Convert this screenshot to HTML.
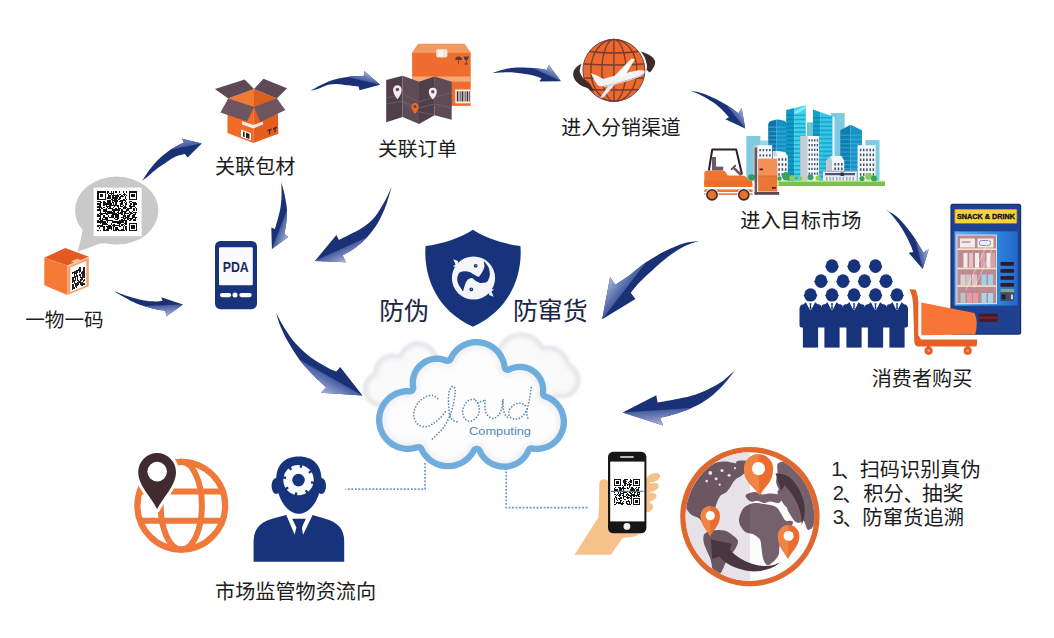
<!DOCTYPE html>
<html lang="zh"><head><meta charset="utf-8"><title>防伪防窜货 流程图</title>
<style>
html,body{margin:0;padding:0;background:#fff;}
body{width:1054px;height:638px;overflow:hidden;font-family:"Liberation Sans",sans-serif;}
svg{display:block;}
</style></head><body>
<svg width="1054" height="638" viewBox="0 0 1054 638" font-family="'Liberation Sans', sans-serif">
<defs>
<clipPath id="t1c"><path d="M768.2,181.5 V124.5 Q768.4,121 773,120.5 Q777.5,118.6 782,120.3 Q787,121 787,125 V181.5Z"/></clipPath>
<clipPath id="t2c"><polygon points="786.2,181.5 786.2,109.9 805.8,105.2 805.8,181.5"/></clipPath>
<clipPath id="t3c"><polygon points="812.9,181.5 812.9,109.4 832.5,116.2 832.5,181.5"/></clipPath>
<clipPath id="t4c"><polygon points="840.3,181.5 840.3,130.3 850.5,124.8 862.0,130.3 862.0,181.5"/></clipPath>
<linearGradient id="vg" x1="0" y1="0" x2="1" y2="0"><stop offset="0" stop-color="#6db3ee"/><stop offset="0.6" stop-color="#2f8be0"/><stop offset="1" stop-color="#2467c9"/></linearGradient>
<filter id="cbl" x="-10%" y="-10%" width="120%" height="120%"><feGaussianBlur stdDeviation="1.6"/></filter>
<filter id="cbl2" x="-10%" y="-10%" width="120%" height="120%"><feGaussianBlur stdDeviation="2.2"/></filter>
<clipPath id="wg"><circle cx="749.9" cy="516.6" r="64.3"/></clipPath>
<linearGradient id="ag1" gradientUnits="userSpaceOnUse" x1="186.2" y1="146.6" x2="184.7" y2="138.3"><stop offset="0" stop-color="#465ca1"/><stop offset="1" stop-color="#6f84bd"/></linearGradient>
<clipPath id="ac1"><path d="M142.1,180.9 C143.5,178.9 147.2,172.7 150.3,168.8 C153.4,164.9 157.1,160.8 160.5,157.6 C163.9,154.4 167.6,151.6 170.7,149.5 C173.8,147.4 176.6,146.0 178.8,144.9 C181.0,143.8 183.1,143.2 183.9,142.8 L182.1,138.8 L201.8,143.6 L187.5,157.6 L184.9,154.1 C183.4,154.5 179.0,155.2 175.8,156.6 C172.6,158.0 169.0,160.5 165.6,162.7 C162.2,164.9 158.5,167.5 155.4,169.9 C152.3,172.3 149.4,175.2 147.2,177.0 C145.0,178.8 142.9,180.2 142.1,180.9Z"/></clipPath>
<linearGradient id="ag2" gradientUnits="userSpaceOnUse" x1="363.8" y1="80.8" x2="366.0" y2="71.3"><stop offset="0" stop-color="#465ca1"/><stop offset="1" stop-color="#a9b5da"/></linearGradient>
<clipPath id="ac2"><path d="M310.3,90.8 C312.2,89.8 317.6,86.6 321.6,84.7 C325.6,82.8 330.2,80.9 334.5,79.6 C338.8,78.3 343.4,77.6 347.4,77.0 C351.4,76.4 355.8,76.3 358.6,76.1 C361.4,75.9 363.3,75.8 364.2,75.7 L364.2,70.9 L380.2,84.7 L359.5,90.3 L358.6,86.5 C356.7,86.3 351.0,85.6 347.4,85.2 C343.8,84.8 340.3,84.0 337.1,83.9 C333.9,83.8 331.4,84.0 328.4,84.7 C325.4,85.5 322.0,87.4 319.0,88.4 C316.0,89.4 311.8,90.4 310.3,90.8Z"/></clipPath>
<linearGradient id="ag3" gradientUnits="userSpaceOnUse" x1="546.6" y1="74.7" x2="550.6" y2="65.9"><stop offset="0" stop-color="#465ca1"/><stop offset="1" stop-color="#a9b5da"/></linearGradient>
<clipPath id="ac3"><path d="M492.3,73.0 C494.7,72.3 502.1,69.6 506.6,68.7 C511.1,67.8 515.2,67.7 519.5,67.6 C523.8,67.5 528.7,67.8 532.4,68.1 C536.1,68.3 539.5,68.8 541.9,69.1 C544.3,69.4 545.8,69.8 546.6,70.0 L548.8,65.1 L560.9,81.2 L539.3,81.6 L541.5,78.2 C540.0,77.7 535.6,76.0 532.4,75.2 C529.2,74.4 525.3,73.9 522.1,73.4 C518.9,72.9 516.7,72.6 513.4,72.4 C510.1,72.2 505.7,72.3 502.2,72.4 C498.7,72.5 493.9,72.9 492.3,73.0Z"/></clipPath>
<linearGradient id="ag4" gradientUnits="userSpaceOnUse" x1="735.5" y1="116.5" x2="743.4" y2="110.2"><stop offset="0" stop-color="#465ca1"/><stop offset="1" stop-color="#a9b5da"/></linearGradient>
<clipPath id="ac4"><path d="M688.2,90.3 C690.2,90.7 696.2,91.5 700.4,92.8 C704.6,94.1 709.4,95.9 713.6,97.9 C717.9,99.9 722.3,102.5 725.9,104.6 C729.5,106.7 732.9,109.3 735.0,110.7 C737.1,112.1 738.0,112.8 738.6,113.2 L741.7,108.1 L745.2,128.5 L725.4,119.3 L728.9,117.3 C727.5,115.8 723.5,111.1 720.8,108.6 C718.1,106.0 715.7,104.1 712.6,102.0 C709.5,99.9 705.5,97.5 702.4,95.9 C699.3,94.3 696.7,93.2 694.3,92.3 C691.9,91.4 689.2,90.6 688.2,90.3Z"/></clipPath>
<linearGradient id="ag5" gradientUnits="userSpaceOnUse" x1="919.0" y1="253.9" x2="929.2" y2="251.4"><stop offset="0" stop-color="#465ca1"/><stop offset="1" stop-color="#a9b5da"/></linearGradient>
<clipPath id="ac5"><path d="M886.3,210.0 C888.0,211.1 892.9,213.5 896.3,216.3 C899.6,219.1 903.2,223.2 906.4,227.0 C909.5,230.8 912.8,235.3 915.2,238.9 C917.6,242.5 919.4,246.0 920.8,248.3 C922.1,250.6 922.9,252.0 923.3,252.7 L928.7,249.3 L922.7,269.0 L908.6,252.7 L913.3,252.1 C912.8,250.7 911.5,246.9 910.1,243.9 C908.7,240.9 907.0,237.2 905.1,233.9 C903.2,230.6 901.1,227.1 898.8,223.8 C896.5,220.6 893.4,216.7 891.3,214.4 C889.2,212.1 887.1,210.7 886.3,210.0Z"/></clipPath>
<linearGradient id="ag6" gradientUnits="userSpaceOnUse" x1="624.3" y1="290.7" x2="608.8" y2="278.7"><stop offset="0" stop-color="#465ca1"/><stop offset="1" stop-color="#a9b5da"/></linearGradient>
<clipPath id="ac6"><path d="M698.9,241.0 C696.4,241.4 689.6,241.6 684.0,243.3 C678.4,245.0 671.5,248.0 665.2,251.1 C658.9,254.2 652.4,258.1 646.4,262.1 C640.4,266.2 634.4,271.6 629.2,275.4 C624.0,279.2 617.5,283.2 615.1,284.8 L610.1,277.0 L602.2,319.3 L635.4,298.9 L630.7,292.7 C632.3,290.9 636.4,285.5 640.1,281.7 C643.8,277.9 648.0,274.1 652.7,269.9 C657.4,265.7 663.1,260.5 668.3,256.6 C673.5,252.7 678.9,249.1 684.0,246.5 C689.1,243.9 696.4,241.9 698.9,241.0Z"/></clipPath>
<linearGradient id="ag7" gradientUnits="userSpaceOnUse" x1="657.0" y1="410.2" x2="658.0" y2="425.7"><stop offset="0" stop-color="#465ca1"/><stop offset="1" stop-color="#a9b5da"/></linearGradient>
<clipPath id="ac7"><path d="M735.3,370.1 C733.3,371.8 727.9,377.2 723.5,380.4 C719.1,383.5 714.0,386.4 708.7,389.0 C703.4,391.6 697.2,394.1 691.5,395.8 C685.8,397.6 679.9,398.4 674.2,399.5 C668.6,400.6 660.4,402.1 657.6,402.6 L656.3,395.2 L622.6,412.4 L663.1,425.4 L660.0,418.0 C662.4,417.4 669.0,415.9 674.2,414.3 C679.5,412.7 685.8,410.8 691.5,408.1 C697.2,405.4 703.4,402.1 708.7,398.2 C714.0,394.3 719.1,389.4 723.5,384.7 C727.9,380.0 733.3,372.5 735.3,370.1Z"/></clipPath>
<linearGradient id="ag8" gradientUnits="userSpaceOnUse" x1="331.0" y1="377.7" x2="322.1" y2="393.3"><stop offset="0" stop-color="#465ca1"/><stop offset="1" stop-color="#a9b5da"/></linearGradient>
<clipPath id="ac8"><path d="M276.0,312.5 C277.3,314.9 280.4,321.6 283.8,326.9 C287.2,332.2 291.6,339.0 296.3,344.2 C301.0,349.4 306.8,354.4 312.0,358.3 C317.2,362.2 323.6,365.5 327.7,367.7 C331.8,369.9 334.9,371.0 336.3,371.6 L340.2,366.9 L362.5,395.6 L321.1,392.7 L326.1,387.3 C323.8,385.1 316.4,378.5 312.0,373.9 C307.6,369.3 303.4,365.0 299.5,359.8 C295.6,354.6 291.6,348.1 288.5,342.6 C285.4,337.1 282.8,331.9 280.7,326.9 C278.6,321.9 276.8,314.9 276.0,312.5Z"/></clipPath>
<linearGradient id="ag9" gradientUnits="userSpaceOnUse" x1="163.4" y1="305.2" x2="163.8" y2="316.3"><stop offset="0" stop-color="#465ca1"/><stop offset="1" stop-color="#a9b5da"/></linearGradient>
<clipPath id="ac9"><path d="M114.0,291.2 C116.1,291.9 122.3,294.3 126.5,295.7 C130.8,297.1 135.2,298.5 139.5,299.4 C143.8,300.3 148.6,301.1 152.4,301.3 C156.2,301.6 160.9,301.0 162.6,300.9 L161.2,297.2 L183.0,304.5 L166.4,316.2 L165.3,310.8 C163.9,310.6 160.3,310.3 156.7,309.5 C153.1,308.7 148.1,307.4 143.8,306.0 C139.5,304.6 134.5,302.5 130.9,300.9 C127.3,299.2 125.0,297.7 122.2,296.1 C119.4,294.5 115.4,292.0 114.0,291.2Z"/></clipPath>
<linearGradient id="ag10" gradientUnits="userSpaceOnUse" x1="341.1" y1="248.9" x2="347.0" y2="261.8"><stop offset="0" stop-color="#465ca1"/><stop offset="1" stop-color="#a9b5da"/></linearGradient>
<clipPath id="ac10"><path d="M391.7,186.8 C390.6,189.0 388.1,195.2 385.4,200.1 C382.6,205.0 379.0,211.9 375.2,216.5 C371.4,221.1 366.9,224.6 362.7,227.5 C358.5,230.4 354.2,232.1 350.2,234.2 C346.2,236.3 340.8,239.0 338.9,240.0 L336.4,235.0 L314.9,260.9 L345.9,262.3 L342.6,255.3 C344.7,254.1 350.8,251.0 354.9,247.9 C359.0,244.8 363.5,241.2 367.4,236.9 C371.3,232.6 375.3,227.3 378.4,222.0 C381.5,216.7 384.0,210.7 386.2,204.8 C388.4,198.9 390.8,189.8 391.7,186.8Z"/></clipPath>
<linearGradient id="ag11" gradientUnits="userSpaceOnUse" x1="279.4" y1="229.5" x2="289.6" y2="233.4"><stop offset="0" stop-color="#465ca1"/><stop offset="1" stop-color="#a9b5da"/></linearGradient>
<clipPath id="ac11"><path d="M281.3,181.9 C281.4,183.9 281.7,189.7 281.6,193.8 C281.5,197.9 281.3,202.3 280.7,206.3 C280.1,210.3 279.1,213.8 278.2,217.6 C277.2,221.4 275.5,227.0 275.0,228.9 L271.3,227.6 L271.9,248.9 L288.2,237.0 L284.4,233.9 C284.7,232.0 285.9,226.6 286.3,222.6 C286.7,218.6 287.2,214.3 287.0,210.1 C286.8,205.9 285.7,201.1 285.1,197.6 C284.5,194.1 283.8,191.4 283.2,188.8 C282.6,186.2 281.6,183.1 281.3,181.9Z"/></clipPath>
</defs>
<rect width="1054" height="638" fill="#fff"/>
<polygon points="83.0,228.0 80.3,241.3 77.4,251.7 88.2,247.9 100.0,243.4 109.0,243.0" fill="#c9c9c9"/><ellipse cx="116.7" cy="210.6" rx="41.7" ry="34" fill="#c9c9c9"/><rect x="93.6" y="187.6" width="48" height="48.5" fill="#fff"/><path d="M97.30,191.30h8.40v1.20h-8.40zM106.90,191.30h2.40v1.20h-2.40zM110.50,191.30h1.20v1.20h-1.20zM112.90,191.30h1.20v1.20h-1.20zM115.30,191.30h1.20v1.20h-1.20zM118.90,191.30h1.20v1.20h-1.20zM122.50,191.30h1.20v1.20h-1.20zM126.10,191.30h1.20v1.20h-1.20zM128.50,191.30h8.40v1.20h-8.40zM97.30,192.50h1.20v1.20h-1.20zM104.50,192.50h1.20v1.20h-1.20zM106.90,192.50h1.20v1.20h-1.20zM109.30,192.50h4.80v1.20h-4.80zM123.70,192.50h1.20v1.20h-1.20zM128.50,192.50h1.20v1.20h-1.20zM135.70,192.50h1.20v1.20h-1.20zM97.30,193.70h1.20v1.20h-1.20zM99.70,193.70h3.60v1.20h-3.60zM104.50,193.70h1.20v1.20h-1.20zM108.10,193.70h1.20v1.20h-1.20zM110.50,193.70h1.20v1.20h-1.20zM112.90,193.70h1.20v1.20h-1.20zM116.50,193.70h1.20v1.20h-1.20zM118.90,193.70h2.40v1.20h-2.40zM122.50,193.70h3.60v1.20h-3.60zM128.50,193.70h1.20v1.20h-1.20zM130.90,193.70h3.60v1.20h-3.60zM135.70,193.70h1.20v1.20h-1.20zM97.30,194.90h1.20v1.20h-1.20zM99.70,194.90h3.60v1.20h-3.60zM104.50,194.90h1.20v1.20h-1.20zM108.10,194.90h2.40v1.20h-2.40zM111.70,194.90h7.20v1.20h-7.20zM121.30,194.90h1.20v1.20h-1.20zM123.70,194.90h1.20v1.20h-1.20zM126.10,194.90h1.20v1.20h-1.20zM128.50,194.90h1.20v1.20h-1.20zM130.90,194.90h3.60v1.20h-3.60zM135.70,194.90h1.20v1.20h-1.20zM97.30,196.10h1.20v1.20h-1.20zM99.70,196.10h3.60v1.20h-3.60zM104.50,196.10h1.20v1.20h-1.20zM108.10,196.10h2.40v1.20h-2.40zM111.70,196.10h2.40v1.20h-2.40zM115.30,196.10h3.60v1.20h-3.60zM120.10,196.10h3.60v1.20h-3.60zM124.90,196.10h1.20v1.20h-1.20zM128.50,196.10h1.20v1.20h-1.20zM130.90,196.10h3.60v1.20h-3.60zM135.70,196.10h1.20v1.20h-1.20zM97.30,197.30h1.20v1.20h-1.20zM104.50,197.30h1.20v1.20h-1.20zM106.90,197.30h3.60v1.20h-3.60zM111.70,197.30h6.00v1.20h-6.00zM118.90,197.30h2.40v1.20h-2.40zM124.90,197.30h1.20v1.20h-1.20zM128.50,197.30h1.20v1.20h-1.20zM135.70,197.30h1.20v1.20h-1.20zM97.30,198.50h8.40v1.20h-8.40zM110.50,198.50h2.40v1.20h-2.40zM114.10,198.50h2.40v1.20h-2.40zM117.70,198.50h2.40v1.20h-2.40zM122.50,198.50h2.40v1.20h-2.40zM126.10,198.50h1.20v1.20h-1.20zM128.50,198.50h8.40v1.20h-8.40zM106.90,199.70h3.60v1.20h-3.60zM111.70,199.70h6.00v1.20h-6.00zM120.10,199.70h6.00v1.20h-6.00zM97.30,200.90h3.60v1.20h-3.60zM103.30,200.90h1.20v1.20h-1.20zM106.90,200.90h3.60v1.20h-3.60zM111.70,200.90h1.20v1.20h-1.20zM114.10,200.90h3.60v1.20h-3.60zM118.90,200.90h3.60v1.20h-3.60zM124.90,200.90h1.20v1.20h-1.20zM128.50,200.90h3.60v1.20h-3.60zM99.70,202.10h2.40v1.20h-2.40zM103.30,202.10h2.40v1.20h-2.40zM106.90,202.10h3.60v1.20h-3.60zM111.70,202.10h2.40v1.20h-2.40zM115.30,202.10h1.20v1.20h-1.20zM121.30,202.10h1.20v1.20h-1.20zM123.70,202.10h1.20v1.20h-1.20zM126.10,202.10h1.20v1.20h-1.20zM128.50,202.10h1.20v1.20h-1.20zM132.10,202.10h3.60v1.20h-3.60zM97.30,203.30h3.60v1.20h-3.60zM103.30,203.30h8.40v1.20h-8.40zM112.90,203.30h1.20v1.20h-1.20zM115.30,203.30h1.20v1.20h-1.20zM120.10,203.30h2.40v1.20h-2.40zM124.90,203.30h2.40v1.20h-2.40zM129.70,203.30h2.40v1.20h-2.40zM133.30,203.30h3.60v1.20h-3.60zM98.50,204.50h2.40v1.20h-2.40zM103.30,204.50h1.20v1.20h-1.20zM105.70,204.50h1.20v1.20h-1.20zM109.30,204.50h9.60v1.20h-9.60zM120.10,204.50h1.20v1.20h-1.20zM122.50,204.50h1.20v1.20h-1.20zM124.90,204.50h1.20v1.20h-1.20zM128.50,204.50h2.40v1.20h-2.40zM133.30,204.50h1.20v1.20h-1.20zM97.30,205.70h3.60v1.20h-3.60zM105.70,205.70h4.80v1.20h-4.80zM114.10,205.70h1.20v1.20h-1.20zM116.50,205.70h2.40v1.20h-2.40zM120.10,205.70h2.40v1.20h-2.40zM123.70,205.70h2.40v1.20h-2.40zM128.50,205.70h6.00v1.20h-6.00zM97.30,206.90h4.80v1.20h-4.80zM103.30,206.90h1.20v1.20h-1.20zM106.90,206.90h1.20v1.20h-1.20zM109.30,206.90h1.20v1.20h-1.20zM112.90,206.90h1.20v1.20h-1.20zM117.70,206.90h1.20v1.20h-1.20zM122.50,206.90h4.80v1.20h-4.80zM129.70,206.90h2.40v1.20h-2.40zM134.50,206.90h1.20v1.20h-1.20zM98.50,208.10h1.20v1.20h-1.20zM100.90,208.10h2.40v1.20h-2.40zM105.70,208.10h1.20v1.20h-1.20zM108.10,208.10h4.80v1.20h-4.80zM115.30,208.10h1.20v1.20h-1.20zM117.70,208.10h3.60v1.20h-3.60zM122.50,208.10h3.60v1.20h-3.60zM127.30,208.10h4.80v1.20h-4.80zM133.30,208.10h1.20v1.20h-1.20zM135.70,208.10h1.20v1.20h-1.20zM97.30,209.30h3.60v1.20h-3.60zM103.30,209.30h3.60v1.20h-3.60zM111.70,209.30h8.40v1.20h-8.40zM121.30,209.30h1.20v1.20h-1.20zM126.10,209.30h2.40v1.20h-2.40zM133.30,209.30h1.20v1.20h-1.20zM135.70,209.30h1.20v1.20h-1.20zM99.70,210.50h1.20v1.20h-1.20zM103.30,210.50h8.40v1.20h-8.40zM112.90,210.50h2.40v1.20h-2.40zM117.70,210.50h1.20v1.20h-1.20zM121.30,210.50h6.00v1.20h-6.00zM128.50,210.50h1.20v1.20h-1.20zM132.10,210.50h1.20v1.20h-1.20zM99.70,211.70h1.20v1.20h-1.20zM104.50,211.70h1.20v1.20h-1.20zM106.90,211.70h8.40v1.20h-8.40zM116.50,211.70h2.40v1.20h-2.40zM120.10,211.70h2.40v1.20h-2.40zM123.70,211.70h2.40v1.20h-2.40zM128.50,211.70h3.60v1.20h-3.60zM133.30,211.70h3.60v1.20h-3.60zM98.50,212.90h18.00v1.20h-18.00zM117.70,212.90h4.80v1.20h-4.80zM123.70,212.90h4.80v1.20h-4.80zM129.70,212.90h3.60v1.20h-3.60zM134.50,212.90h1.20v1.20h-1.20zM97.30,214.10h1.20v1.20h-1.20zM99.70,214.10h3.60v1.20h-3.60zM105.70,214.10h2.40v1.20h-2.40zM111.70,214.10h7.20v1.20h-7.20zM121.30,214.10h1.20v1.20h-1.20zM123.70,214.10h1.20v1.20h-1.20zM128.50,214.10h2.40v1.20h-2.40zM133.30,214.10h2.40v1.20h-2.40zM97.30,215.30h3.60v1.20h-3.60zM103.30,215.30h1.20v1.20h-1.20zM108.10,215.30h1.20v1.20h-1.20zM110.50,215.30h3.60v1.20h-3.60zM115.30,215.30h3.60v1.20h-3.60zM122.50,215.30h3.60v1.20h-3.60zM127.30,215.30h2.40v1.20h-2.40zM132.10,215.30h2.40v1.20h-2.40zM99.70,216.50h1.20v1.20h-1.20zM103.30,216.50h4.80v1.20h-4.80zM109.30,216.50h4.80v1.20h-4.80zM115.30,216.50h3.60v1.20h-3.60zM121.30,216.50h2.40v1.20h-2.40zM124.90,216.50h3.60v1.20h-3.60zM132.10,216.50h4.80v1.20h-4.80zM98.50,217.70h2.40v1.20h-2.40zM102.10,217.70h1.20v1.20h-1.20zM104.50,217.70h3.60v1.20h-3.60zM114.10,217.70h1.20v1.20h-1.20zM116.50,217.70h2.40v1.20h-2.40zM122.50,217.70h3.60v1.20h-3.60zM127.30,217.70h6.00v1.20h-6.00zM134.50,217.70h1.20v1.20h-1.20zM98.50,218.90h2.40v1.20h-2.40zM102.10,218.90h6.00v1.20h-6.00zM115.30,218.90h2.40v1.20h-2.40zM121.30,218.90h1.20v1.20h-1.20zM123.70,218.90h1.20v1.20h-1.20zM127.30,218.90h1.20v1.20h-1.20zM129.70,218.90h2.40v1.20h-2.40zM133.30,218.90h2.40v1.20h-2.40zM97.30,220.10h1.20v1.20h-1.20zM99.70,220.10h3.60v1.20h-3.60zM105.70,220.10h7.20v1.20h-7.20zM118.90,220.10h8.40v1.20h-8.40zM128.50,220.10h2.40v1.20h-2.40zM133.30,220.10h2.40v1.20h-2.40zM97.30,221.30h8.40v1.20h-8.40zM106.90,221.30h1.20v1.20h-1.20zM111.70,221.30h12.00v1.20h-12.00zM124.90,221.30h2.40v1.20h-2.40zM99.70,222.50h1.20v1.20h-1.20zM102.10,222.50h4.80v1.20h-4.80zM110.50,222.50h1.20v1.20h-1.20zM116.50,222.50h4.80v1.20h-4.80zM123.70,222.50h3.60v1.20h-3.60zM128.50,222.50h8.40v1.20h-8.40zM102.10,223.70h6.00v1.20h-6.00zM110.50,223.70h1.20v1.20h-1.20zM112.90,223.70h2.40v1.20h-2.40zM118.90,223.70h1.20v1.20h-1.20zM121.30,223.70h2.40v1.20h-2.40zM124.90,223.70h2.40v1.20h-2.40zM128.50,223.70h1.20v1.20h-1.20zM135.70,223.70h1.20v1.20h-1.20zM97.30,224.90h6.00v1.20h-6.00zM108.10,224.90h2.40v1.20h-2.40zM111.70,224.90h8.40v1.20h-8.40zM121.30,224.90h1.20v1.20h-1.20zM123.70,224.90h1.20v1.20h-1.20zM128.50,224.90h1.20v1.20h-1.20zM130.90,224.90h3.60v1.20h-3.60zM135.70,224.90h1.20v1.20h-1.20zM97.30,226.10h1.20v1.20h-1.20zM99.70,226.10h4.80v1.20h-4.80zM105.70,226.10h6.00v1.20h-6.00zM112.90,226.10h2.40v1.20h-2.40zM118.90,226.10h2.40v1.20h-2.40zM122.50,226.10h1.20v1.20h-1.20zM124.90,226.10h2.40v1.20h-2.40zM128.50,226.10h1.20v1.20h-1.20zM130.90,226.10h3.60v1.20h-3.60zM135.70,226.10h1.20v1.20h-1.20zM98.50,227.30h1.20v1.20h-1.20zM103.30,227.30h1.20v1.20h-1.20zM106.90,227.30h4.80v1.20h-4.80zM112.90,227.30h1.20v1.20h-1.20zM115.30,227.30h2.40v1.20h-2.40zM122.50,227.30h1.20v1.20h-1.20zM124.90,227.30h2.40v1.20h-2.40zM128.50,227.30h1.20v1.20h-1.20zM130.90,227.30h3.60v1.20h-3.60zM135.70,227.30h1.20v1.20h-1.20zM103.30,228.50h1.20v1.20h-1.20zM105.70,228.50h3.60v1.20h-3.60zM110.50,228.50h1.20v1.20h-1.20zM112.90,228.50h1.20v1.20h-1.20zM115.30,228.50h3.60v1.20h-3.60zM121.30,228.50h2.40v1.20h-2.40zM124.90,228.50h2.40v1.20h-2.40zM128.50,228.50h1.20v1.20h-1.20zM135.70,228.50h1.20v1.20h-1.20zM97.30,229.70h1.20v1.20h-1.20zM99.70,229.70h1.20v1.20h-1.20zM103.30,229.70h6.00v1.20h-6.00zM112.90,229.70h3.60v1.20h-3.60zM117.70,229.70h7.20v1.20h-7.20zM126.10,229.70h1.20v1.20h-1.20zM128.50,229.70h8.40v1.20h-8.40z" fill="#111" shape-rendering="crispEdges"/>
<polygon points="44.3,257.8 65.1,247.9 88.8,256.7 67.3,265.5" fill="#e25a21"/><polygon points="44.3,257.8 67.3,265.5 67.3,295.1 44.3,285.2" fill="#f47a36"/><polygon points="67.3,265.5 88.8,256.7 88.8,286.3 67.3,295.1" fill="#f3a071"/><polygon points="67.3,265.5 74.0,262.8 71.0,261.2 77.0,258.8 82.0,260.5 88.8,256.7 88.8,258.5 67.3,267.2" fill="#f6c3a0"/><polygon points="70.3,267.5 86.3,261.0 86.3,285.5 70.3,292.0" fill="#fff"/><g transform="matrix(1 -0.406 0 1 72.4 270.2)"><path d="M6.65,0.00h2.22v1.77h-2.22zM0.00,1.77h8.87v1.77h-8.87zM11.09,1.77h1.11v1.77h-1.11zM1.11,3.55h4.44v1.77h-4.44zM6.65,3.55h2.22v1.77h-2.22zM11.09,3.55h1.11v1.77h-1.11zM1.11,5.32h1.11v1.77h-1.11zM3.33,5.32h1.11v1.77h-1.11zM8.87,5.32h3.33v1.77h-3.33zM0.00,7.09h5.55v1.77h-5.55zM6.65,7.09h2.22v1.77h-2.22zM9.98,7.09h2.22v1.77h-2.22zM0.00,8.86h1.11v1.77h-1.11zM2.22,8.86h1.11v1.77h-1.11zM4.44,8.86h1.11v1.77h-1.11zM7.76,8.86h1.11v1.77h-1.11zM9.98,8.86h2.22v1.77h-2.22zM0.00,10.64h3.33v1.77h-3.33zM4.44,10.64h1.11v1.77h-1.11zM8.87,10.64h3.33v1.77h-3.33zM1.11,12.41h1.11v1.77h-1.11zM5.55,12.41h1.11v1.77h-1.11zM7.76,12.41h3.33v1.77h-3.33zM0.00,14.18h1.11v1.77h-1.11zM2.22,14.18h6.65v1.77h-6.65zM11.09,14.18h1.11v1.77h-1.11zM0.00,15.95h1.11v1.77h-1.11zM2.22,15.95h4.44v1.77h-4.44zM7.76,15.95h3.33v1.77h-3.33zM0.00,17.73h2.22v1.77h-2.22zM3.33,17.73h1.11v1.77h-1.11zM8.87,17.73h3.33v1.77h-3.33z" fill="#2a2024" shape-rendering="crispEdges"/></g>
<polygon points="228.2,98.4 254.0,89.0 254.0,108.0 228.2,112.0" fill="#f07a33"/><polygon points="254.0,89.0 276.8,98.4 276.8,112.0 254.0,108.0" fill="#d9601f"/><polygon points="214.9,89.0 244.7,79.6 254.0,89.0 228.2,98.4" fill="#5e4a56"/><polygon points="254.0,89.0 263.5,78.8 287.0,88.2 276.8,98.4" fill="#5e4a56"/><polygon points="227.6,99.0 254.0,107.0 253.3,143.0 227.4,132.9" fill="#f26b26"/><polygon points="254.0,107.0 277.6,99.0 278.4,133.7 253.3,143.0" fill="#e65e1e"/><polygon points="242.0,121.0 253.3,125.0 263.0,121.5 263.0,124.5 253.3,128.5 242.0,124.5" fill="#f4e9e2"/><polygon points="228.2,98.4 254.0,107.0 247.0,121.5 220.4,112.5" fill="#6a5561"/><polygon points="254.0,107.0 276.8,98.4 285.4,110.0 260.3,122.0" fill="#6a5561"/><polygon points="241.0,129.5 251.0,133.2 251.0,140.5 241.0,136.8" fill="#fff"/><polygon points="243.0,131.5 244.6,132.1 244.6,137.2 243.0,136.6" fill="#222"/><polygon points="246.0,132.6 249.5,133.9 249.5,139.0 246.0,137.7" fill="#222"/><polygon points="267.5,130.0 271.5,128.5 271.5,130.0 270.2,130.6 270.2,134.0 268.8,134.5 268.8,131.0 267.5,131.5" fill="#3a2a2a"/><polygon points="273.0,128.0 277.0,126.5 277.0,128.0 275.7,128.6 275.7,132.0 274.3,132.5 274.3,129.0 273.0,129.5" fill="#3a2a2a"/>
<polygon points="418.1,43.8 464.7,43.8 470.7,52.4 412.1,52.4" fill="#f29a60"/><rect x="412.1" y="52.4" width="58.6" height="53.5" fill="#f06d30"/><rect x="412.1" y="76.5" width="58.6" height="5.2" fill="#f5a878"/><rect x="436.2" y="49.3" width="11.2" height="8.3" rx="2" fill="#eee6dc"/><rect x="438.5" y="50.5" width="4.5" height="5.8" rx="1" fill="#f8f4ee"/><path d="M455.2,60 a3.4,3.4 0 0 1 6.8,0 z M458.3,60 h0.7 v4.5 h-0.7z" fill="#5a3c3c"/><path d="M463.5,56.5 h5.5 l-1.2,3.6 h-1.1 v3.4 h1.3 v0.9 h-3.5 v-0.9 h1.3 v-3.4 h-1.1z" fill="#5a3c3c"/><rect x="455.2" y="89.5" width="15.5" height="13.8" fill="#fbf3ea"/><rect x="456.8" y="91.3" width="1.6" height="10.2" fill="#3b2d3a"/><rect x="459.6" y="91.3" width="1.0" height="10.2" fill="#3b2d3a"/><rect x="461.6" y="91.3" width="1.8" height="10.2" fill="#3b2d3a"/><rect x="464.6" y="91.3" width="1.0" height="10.2" fill="#3b2d3a"/><rect x="466.6" y="91.3" width="1.6" height="10.2" fill="#3b2d3a"/><rect x="468.9" y="91.3" width="0.8" height="10.2" fill="#3b2d3a"/><polygon points="386.2,80.0 402.6,75.7 402.6,117.0 386.2,122.2" fill="#4f3f48"/><polygon points="402.6,75.7 419.0,81.7 419.0,124.0 402.6,117.0" fill="#5d4b55"/><polygon points="419.0,81.7 434.5,76.6 434.5,115.3 419.0,124.0" fill="#4f3f48"/><polygon points="434.5,76.6 451.7,81.7 451.7,119.7 434.5,115.3" fill="#5d4b55"/><path d="M386.2,98 L402.6,94 L419,102 L434.5,97 L451.7,93 M386.2,104 L402.6,101 L419,108 L434.5,104 L451.7,108 M402.6,101 L415,111 L434.5,115" stroke="#75626b" stroke-width="0.8" fill="none"/><path d="M393.09999999999997,89.5 a4.3,4.3 0 1 1 8.6,0 q0,4.4 -4.3,9.8 q-4.3,-5.4 -4.3,-9.8z" fill="#f4efef"/><circle cx="397.4" cy="89.5" r="1.8" fill="#6b4a4a"/><path d="M428.8,91.8 a4.0,4.0 0 1 1 8.0,0 q0,3.5 -4.0,7.7 q-4.0,-4.2 -4.0,-7.7z" fill="#f4efef"/><circle cx="432.8" cy="91.8" r="1.7" fill="#6b4a4a"/><path d="M411.4,106.5 a3.6,3.6 0 1 1 7.2,0 q0,3.4 -3.6,7.5 q-3.6,-4.1 -3.6,-7.5z" fill="#e8682a"/><circle cx="415" cy="106.5" r="1.5" fill="#8a3a1a"/>
<circle cx="613.9" cy="70.4" r="31" fill="#ec6a2e" stroke="#6b4545" stroke-width="1"/><g stroke="#7a3a30" stroke-width="1.3" fill="none"><line x1="613.9" y1="39.400000000000006" x2="613.9" y2="101.4"/><ellipse cx="613.9" cy="70.4" rx="12" ry="31"/><ellipse cx="613.9" cy="70.4" rx="23" ry="31"/><path d="M589.4,51.5 Q613.9,54.5 638.4,51.5"/><path d="M583.6,64 Q613.9,66 644.1999999999999,64"/><path d="M583.9,78 Q613.9,79.5 643.9,78"/><path d="M589.4,89.5 Q613.9,90.5 638.4,89.5"/></g><path d="M581.7,63.8 C575.5,66.5 572.5,71 573.3,75.5 C574.3,81.5 580,85.5 586,87.6 C589,88.8 592,90.6 594.2,92.4 C593.5,89.5 591,85.5 588.4,82.2 C585.5,80.3 583,78.4 582,76.4 C580,73.5 579.5,71 579.8,70.3 C580,68 580.8,66 581.7,63.8Z" fill="#3e2b2b"/><path d="M640.8,51.4 C644,52.3 646.5,53.4 648.5,54.5 C651.5,56 653.5,57.8 654.2,59.6 C655.4,61.5 655.4,63 654.9,64 C654.6,66 653.8,67.3 652.8,68.4 C652,70 651,71.5 649.6,72.6 C648.4,71.7 647.4,70.6 646.4,69.5 C647.3,67.5 647.2,65 646.3,62.7 C645.9,60.8 645.3,59 644.6,57.3 C643.7,55.3 642.4,53.4 640.8,51.4Z" fill="#3e2b2b"/><path d="M591,73.2 L596.5,75.2 L603,78.8 C612,76.5 622,74.2 631,71.8 C637,70.2 642.5,69.6 644.6,71.4 C645.4,73 642,75.2 636,77.2 C627,80.3 612,84.4 603.5,86 C600.5,86.6 598.5,86.2 597.5,84.8 L594.5,80.5 Z" fill="#f3f1f2"/><path d="M614,76.5 L631.5,58.5 L634.8,59.2 L624.5,76.5Z" fill="#fbfafa"/><path d="M611,82 L617.5,81.5 L603.5,97.5 L600,97.8Z" fill="#eceaee"/><path d="M603.5,86 C612,84.4 627,80.3 636,77.2 C642,75.2 645.4,73 644.6,71.4 C645,74 641,76.5 636,78.4 C627,81.6 612,85.8 603.5,87.2Z" fill="#cfcdd4"/>
<rect x="746.3" y="136" width="14.1" height="45.5" fill="#7ecbe0"/><rect x="760" y="140.5" width="8" height="41.0" fill="#9ad6e4"/><rect x="830.9" y="113" width="13.8" height="68.5" fill="#7ecbe0"/><rect x="865.4" y="140.1" width="14.1" height="41.400000000000006" fill="#7ecbe0"/><rect x="807" y="122.4" width="6.5" height="59.099999999999994" fill="#6cc3da"/><g clip-path="url(#t1c)"><rect x="768" y="118" width="8.6" height="64" fill="#0c74a9"/><rect x="776.6" y="118" width="10.6" height="64" fill="#1691c6"/><path d="M768.2,126.5h18.8v1.5h-18.8zM768.2,130.7h18.8v1.5h-18.8zM768.2,134.9h18.8v1.5h-18.8zM768.2,139.1h18.8v1.5h-18.8zM768.2,143.3h18.8v1.5h-18.8zM768.2,147.5h18.8v1.5h-18.8zM768.2,151.7h18.8v1.5h-18.8zM768.2,155.9h18.8v1.5h-18.8zM768.2,160.1h18.8v1.5h-18.8zM768.2,164.3h18.8v1.5h-18.8zM768.2,168.5h18.8v1.5h-18.8zM768.2,172.7h18.8v1.5h-18.8zM768.2,176.9h18.8v1.5h-18.8z" fill="#45b4e0" opacity="0.55"/></g><g clip-path="url(#t2c)"><rect x="786" y="104" width="8.4" height="78" fill="#0f9ac6"/><rect x="794.4" y="104" width="11.6" height="78" fill="#40d2ec"/><path d="M786.2,114.5h8.2v1.6h-8.2zM786.2,118.7h8.2v1.6h-8.2zM786.2,122.9h8.2v1.6h-8.2zM786.2,127.1h8.2v1.6h-8.2zM786.2,131.3h8.2v1.6h-8.2zM786.2,135.5h8.2v1.6h-8.2zM786.2,139.7h8.2v1.6h-8.2zM786.2,143.9h8.2v1.6h-8.2zM786.2,148.1h8.2v1.6h-8.2zM786.2,152.3h8.2v1.6h-8.2zM786.2,156.5h8.2v1.6h-8.2zM786.2,160.7h8.2v1.6h-8.2zM786.2,164.9h8.2v1.6h-8.2zM786.2,169.1h8.2v1.6h-8.2zM786.2,173.3h8.2v1.6h-8.2zM786.2,177.5h8.2v1.6h-8.2z" fill="#0a80aa" opacity="0.8"/><path d="M794.4,114.5h11.4v1.6h-11.4zM794.4,118.7h11.4v1.6h-11.4zM794.4,122.9h11.4v1.6h-11.4zM794.4,127.1h11.4v1.6h-11.4zM794.4,131.3h11.4v1.6h-11.4zM794.4,135.5h11.4v1.6h-11.4zM794.4,139.7h11.4v1.6h-11.4zM794.4,143.9h11.4v1.6h-11.4zM794.4,148.1h11.4v1.6h-11.4zM794.4,152.3h11.4v1.6h-11.4zM794.4,156.5h11.4v1.6h-11.4zM794.4,160.7h11.4v1.6h-11.4zM794.4,164.9h11.4v1.6h-11.4zM794.4,169.1h11.4v1.6h-11.4zM794.4,173.3h11.4v1.6h-11.4zM794.4,177.5h11.4v1.6h-11.4z" fill="#1ba6c2" opacity="0.85"/></g><polygon points="794.4,111.5 805.8,105.2 805.8,108.4 797.0,113.5 794.4,113.5" fill="#8be6f5"/><g clip-path="url(#t3c)"><rect x="812.5" y="108" width="7.7" height="74" fill="#12a0cc"/><rect x="820.2" y="108" width="12.6" height="74" fill="#36c6e9"/><path d="M812.9,117.0h7.3v1.6h-7.3zM812.9,121.2h7.3v1.6h-7.3zM812.9,125.4h7.3v1.6h-7.3zM812.9,129.6h7.3v1.6h-7.3zM812.9,133.8h7.3v1.6h-7.3zM812.9,138.0h7.3v1.6h-7.3zM812.9,142.2h7.3v1.6h-7.3zM812.9,146.4h7.3v1.6h-7.3zM812.9,150.6h7.3v1.6h-7.3zM812.9,154.8h7.3v1.6h-7.3zM812.9,159.0h7.3v1.6h-7.3zM812.9,163.2h7.3v1.6h-7.3zM812.9,167.4h7.3v1.6h-7.3zM812.9,171.6h7.3v1.6h-7.3zM812.9,175.8h7.3v1.6h-7.3z" fill="#0b84ad" opacity="0.8"/><path d="M820.2,117.0h12.3v1.6h-12.3zM820.2,121.2h12.3v1.6h-12.3zM820.2,125.4h12.3v1.6h-12.3zM820.2,129.6h12.3v1.6h-12.3zM820.2,133.8h12.3v1.6h-12.3zM820.2,138.0h12.3v1.6h-12.3zM820.2,142.2h12.3v1.6h-12.3zM820.2,146.4h12.3v1.6h-12.3zM820.2,150.6h12.3v1.6h-12.3zM820.2,154.8h12.3v1.6h-12.3zM820.2,159.0h12.3v1.6h-12.3zM820.2,163.2h12.3v1.6h-12.3zM820.2,167.4h12.3v1.6h-12.3zM820.2,171.6h12.3v1.6h-12.3zM820.2,175.8h12.3v1.6h-12.3z" fill="#1a9fc2" opacity="0.85"/></g><polygon points="832.5,116.2 834.6,117.5 834.6,181.5 832.5,181.5" fill="#e4f6fa"/><g clip-path="url(#t4c)"><rect x="840" y="124" width="10.5" height="58" fill="#0d7db0"/><rect x="850.5" y="124" width="12" height="58" fill="#1795c8"/><path d="M840.3,134.5h21.7v1.5h-21.7zM840.3,138.7h21.7v1.5h-21.7zM840.3,142.9h21.7v1.5h-21.7zM840.3,147.1h21.7v1.5h-21.7zM840.3,151.3h21.7v1.5h-21.7zM840.3,155.5h21.7v1.5h-21.7zM840.3,159.7h21.7v1.5h-21.7zM840.3,163.9h21.7v1.5h-21.7zM840.3,168.1h21.7v1.5h-21.7zM840.3,172.3h21.7v1.5h-21.7zM840.3,176.5h21.7v1.5h-21.7z" fill="#45b4e0" opacity="0.5"/></g><rect x="753.3" y="145.2" width="4" height="36.30000000000001" fill="#c4c8cf"/><rect x="757.3" y="145.2" width="14.8" height="36.30000000000001" fill="#f6f8fa"/><path d="M759.4,148.9h1.5v2.4h-1.5zM762.6,148.9h1.5v2.4h-1.5zM765.9,148.9h1.5v2.4h-1.5zM769.1,148.9h1.5v2.4h-1.5zM759.4,154.2h1.5v2.4h-1.5zM762.6,154.2h1.5v2.4h-1.5zM765.9,154.2h1.5v2.4h-1.5zM769.1,154.2h1.5v2.4h-1.5z" fill="#41506e"/><polygon points="772.9,181.5 772.9,151.4 776.0,150.8 785.0,152.0 787.8,156.0 787.8,181.5" fill="#f6f8fa"/><polygon points="772.9,151.4 776.0,150.8 777.5,156.0 772.9,157.0" fill="#d5d8de"/><path d="M778.3,158.2h1.6v2.6h-1.6zM781.6,158.2h1.6v2.6h-1.6zM784.9,158.2h1.6v2.6h-1.6zM778.3,163.2h1.6v2.6h-1.6zM781.6,163.2h1.6v2.6h-1.6zM784.9,163.2h1.6v2.6h-1.6zM778.3,168.2h1.6v2.6h-1.6zM781.6,168.2h1.6v2.6h-1.6zM784.9,168.2h1.6v2.6h-1.6zM778.3,173.2h1.6v2.6h-1.6zM781.6,173.2h1.6v2.6h-1.6zM784.9,173.2h1.6v2.6h-1.6z" fill="#41506e"/><rect x="800.3" y="136" width="7.1" height="45.5" fill="#c9ccd3"/><rect x="807.4" y="136" width="11.8" height="45.5" fill="#f6f8fa"/><path d="M808.6,139.2h1.4v2.3h-1.4zM811.3,139.2h1.4v2.3h-1.4zM814.0,139.2h1.4v2.3h-1.4zM816.7,139.2h1.4v2.3h-1.4zM808.6,144.0h1.4v2.3h-1.4zM811.3,144.0h1.4v2.3h-1.4zM814.0,144.0h1.4v2.3h-1.4zM816.7,144.0h1.4v2.3h-1.4zM808.6,148.7h1.4v2.3h-1.4zM811.3,148.7h1.4v2.3h-1.4zM814.0,148.7h1.4v2.3h-1.4zM816.7,148.7h1.4v2.3h-1.4zM808.6,153.5h1.4v2.3h-1.4zM811.3,153.5h1.4v2.3h-1.4zM814.0,153.5h1.4v2.3h-1.4zM816.7,153.5h1.4v2.3h-1.4zM808.6,158.2h1.4v2.3h-1.4zM811.3,158.2h1.4v2.3h-1.4zM814.0,158.2h1.4v2.3h-1.4zM816.7,158.2h1.4v2.3h-1.4zM808.6,163.0h1.4v2.3h-1.4zM811.3,163.0h1.4v2.3h-1.4zM814.0,163.0h1.4v2.3h-1.4zM816.7,163.0h1.4v2.3h-1.4zM808.6,167.7h1.4v2.3h-1.4zM811.3,167.7h1.4v2.3h-1.4zM814.0,167.7h1.4v2.3h-1.4zM816.7,167.7h1.4v2.3h-1.4zM808.6,172.5h1.4v2.3h-1.4zM811.3,172.5h1.4v2.3h-1.4zM814.0,172.5h1.4v2.3h-1.4zM816.7,172.5h1.4v2.3h-1.4z" fill="#41506e"/><rect x="857.6" y="145.2" width="18" height="36.30000000000001" fill="#f6f8fa"/><path d="M859.9,148.7h1.5v2.6h-1.5zM863.0,148.7h1.5v2.6h-1.5zM866.2,148.7h1.5v2.6h-1.5zM869.5,148.7h1.5v2.6h-1.5zM872.6,148.7h1.5v2.6h-1.5zM859.9,153.6h1.5v2.6h-1.5zM863.0,153.6h1.5v2.6h-1.5zM866.2,153.6h1.5v2.6h-1.5zM869.5,153.6h1.5v2.6h-1.5zM872.6,153.6h1.5v2.6h-1.5zM859.9,158.5h1.5v2.6h-1.5zM863.0,158.5h1.5v2.6h-1.5zM866.2,158.5h1.5v2.6h-1.5zM869.5,158.5h1.5v2.6h-1.5zM872.6,158.5h1.5v2.6h-1.5zM859.9,163.4h1.5v2.6h-1.5zM863.0,163.4h1.5v2.6h-1.5zM866.2,163.4h1.5v2.6h-1.5zM869.5,163.4h1.5v2.6h-1.5zM872.6,163.4h1.5v2.6h-1.5zM859.9,168.3h1.5v2.6h-1.5zM863.0,168.3h1.5v2.6h-1.5zM866.2,168.3h1.5v2.6h-1.5zM869.5,168.3h1.5v2.6h-1.5zM872.6,168.3h1.5v2.6h-1.5zM859.9,173.2h1.5v2.6h-1.5zM863.0,173.2h1.5v2.6h-1.5zM866.2,173.2h1.5v2.6h-1.5zM869.5,173.2h1.5v2.6h-1.5zM872.6,173.2h1.5v2.6h-1.5z" fill="#41506e"/><polygon points="826.2,181.5 826.2,161.0 831.0,156.1 841.5,156.1 844.2,160.8 844.2,181.5" fill="#f3f5f8"/><polygon points="826.2,181.5 826.2,161.0 831.0,156.1 832.0,161.0 832.0,181.5" fill="#c4c8cf"/><path d="M834.4,163.1h1.6v2.4h-1.6zM837.7,163.1h1.6v2.4h-1.6zM841.0,163.1h1.6v2.4h-1.6zM834.4,167.6h1.6v2.4h-1.6zM837.7,167.6h1.6v2.4h-1.6zM841.0,167.6h1.6v2.4h-1.6z" fill="#41506e"/><rect x="823" y="171" width="33.8" height="10" fill="#e9ecf1"/><rect x="823" y="170.6" width="33.8" height="1.3" fill="#aab0bd"/><rect x="825" y="173" width="30" height="2.2" fill="#4a5674"/><rect x="840.5" y="172.5" width="3.5" height="3.5" fill="#2c3550"/><path d="M826.1,177.0h1.2v3.5h-1.2zM829.4,177.0h1.2v3.5h-1.2zM832.7,177.0h1.2v3.5h-1.2zM836.1,177.0h1.2v3.5h-1.2zM839.4,177.0h1.2v3.5h-1.2zM842.7,177.0h1.2v3.5h-1.2zM846.1,177.0h1.2v3.5h-1.2zM849.4,177.0h1.2v3.5h-1.2zM852.7,177.0h1.2v3.5h-1.2z" fill="#9098aa"/><rect x="778.4" y="181.6" width="106.6" height="4.4" fill="#7cc344"/><rect x="778.4" y="180.6" width="106.6" height="1.2" fill="#b7e08c"/><circle cx="786.2" cy="176.3" r="4.2" fill="#37a35a"/><circle cx="792" cy="178" r="2.8" fill="#8dcf56"/><circle cx="810.5" cy="177.3" r="3" fill="#37a35a"/><circle cx="818" cy="178" r="2.5" fill="#8dcf56"/><circle cx="868.5" cy="176.5" r="3.4" fill="#8dcf56"/><circle cx="874" cy="178.6" r="3" fill="#37a35a"/><circle cx="862" cy="178.6" r="2.6" fill="#37a35a"/><circle cx="779.5" cy="178.5" r="2.2" fill="#37a35a"/><circle cx="800" cy="178.5" r="2.2" fill="#8dcf56"/>
<rect x="758.1" y="158.6" width="19.2" height="17.8" fill="#f29058"/><rect x="758.1" y="176.2" width="19.2" height="15.4" fill="#ec7636"/><rect x="758.1" y="175.6" width="19.2" height="1" fill="#d96528"/><rect x="759.5" y="168.5" width="3.4" height="1.8" fill="#3a2a2a"/><rect x="772" y="187" width="3.8" height="1.8" fill="#3a2a2a"/><ellipse cx="751.6" cy="177.3" rx="3.6" ry="3" fill="#2f9d5a"/><rect x="754.6" y="147.6" width="2.5" height="46.8" fill="#6b5661"/><rect x="754.6" y="192" width="24.6" height="2.8" fill="#5a4650"/><path d="M708.9,170.5 L712.2,149.6 L736.2,149.6 L742,174.5" fill="none" stroke="#2a2024" stroke-width="2" stroke-linejoin="round"/><rect x="712" y="157" width="4" height="11" fill="#6e5a66"/><rect x="712" y="166.6" width="11.2" height="4" fill="#6e5a66"/><path d="M731.6,169.3 L735.3,165.6" stroke="#4a3b45" stroke-width="1.6" stroke-linecap="round"/><path d="M733.8,167.8 L741,175" stroke="#6a5863" stroke-width="2.6"/><path d="M704.3,186.8 V173.5 Q704.5,170.6 707.5,170.5 H722.6 Q725,170.6 726,172.8 L727.9,175.6 H742.5 Q745,175.8 746.5,177.5 L752.6,183.3 V186.8Z" fill="#f17633"/><path d="M704.3,180.5 H752 V186.8 H704.3Z" fill="#ec6c2a"/><rect x="704.3" y="189.4" width="48.3" height="2.6" fill="#f17633"/><rect x="704.3" y="193.3" width="48.3" height="1.6" fill="#f17633"/><circle cx="712" cy="194.8" r="6.6" fill="#fff"/><circle cx="712" cy="194.8" r="5.9" fill="#3a2828"/><circle cx="712" cy="194.8" r="4.3" fill="#e9702f"/><circle cx="743.8" cy="194.8" r="6.6" fill="#fff"/><circle cx="743.8" cy="194.8" r="5.9" fill="#3a2828"/><circle cx="743.8" cy="194.8" r="4.3" fill="#e9702f"/>
<rect x="950.4" y="203.8" width="70.8" height="131" rx="2.5" fill="#17326f"/><rect x="951.6" y="205" width="68.4" height="128.6" rx="1.8" fill="#1f4190"/><rect x="954.4" y="209" width="62.8" height="14.8" rx="1" fill="#b58f1c"/><rect x="955.2" y="209.8" width="61.2" height="13.2" rx="0.8" fill="#f5d340"/><text x="986" y="219.3" font-family="'Liberation Sans', sans-serif" font-weight="bold" font-size="7.6" text-anchor="middle" textLength="58" lengthAdjust="spacingAndGlyphs" fill="#141414" stroke="#141414" stroke-width="0.35">SNACK &amp; DRINK</text><rect x="954.6" y="231.4" width="63" height="74.2" fill="url(#vg)"/><rect x="956.9" y="235" width="39.6" height="68.6" fill="#bf8a90"/><rect x="956.9" y="235" width="39.6" height="68.6" fill="none" stroke="#dfeaf6" stroke-width="0.9"/><rect x="957.4" y="248.3" width="38.6" height="1.7" fill="#f3e3c4"/><rect x="957.4" y="267.6" width="38.6" height="1.7" fill="#f3e3c4"/><rect x="957.4" y="285.2" width="38.6" height="1.7" fill="#f3e3c4"/><rect x="960" y="238.5" width="15" height="9" fill="#f1ecec"/><rect x="961.5" y="241" width="9" height="2" fill="#c8a8a8"/><rect x="977.5" y="238.5" width="16" height="9" fill="#f1ecec"/><rect x="979.5" y="240.5" width="11" height="5" rx="2" fill="none" stroke="#8d86c9" stroke-width="1"/><rect x="963.5" y="253" width="4" height="14.5" fill="#f3eeee"/><rect x="969" y="253" width="4" height="14.5" fill="#e8c0c4"/><rect x="975" y="253" width="4" height="14.5" fill="#f3eeee"/><rect x="981" y="253" width="4" height="14.5" fill="#e2a0a8"/><rect x="986.5" y="253" width="4" height="14.5" fill="#f3eeee"/><rect x="991" y="253" width="4" height="14.5" fill="#d9a0a6"/><rect x="960.5" y="274.5" width="5" height="10.7" fill="#d9d2d2"/><rect x="966" y="274.5" width="5" height="10.7" fill="#cfc6c8"/><rect x="972" y="274.5" width="5" height="10.7" fill="#e4c0c4"/><rect x="981.5" y="274.5" width="5" height="10.7" fill="#9fd2e6"/><rect x="988" y="274.5" width="5" height="10.7" fill="#9fd2e6"/><rect x="960.5" y="293" width="5" height="10" fill="#b9c4c4"/><rect x="967" y="293" width="5" height="10" fill="#e89aa6"/><rect x="973" y="293" width="5" height="10" fill="#e89aa6"/><rect x="981.5" y="293" width="5" height="10" fill="#a6d6ea"/><rect x="988" y="293" width="5" height="10" fill="#a6d6ea"/><path d="M989,240 L966,290 M992,250 L974,288" stroke="#fff" stroke-width="0.8" opacity="0.55"/><rect x="1000.4" y="262" width="13.6" height="3.7" rx="1" fill="#2b1c2e"/><rect x="1000.4" y="269" width="13.6" height="3.7" rx="1" fill="#2b1c2e"/><rect x="1000.4" y="276.1" width="13.6" height="3.7" rx="1" fill="#2b1c2e"/><rect x="1000.4" y="283.1" width="13.6" height="3.7" rx="1" fill="#2b1c2e"/><rect x="1000.4" y="289" width="13.6" height="12" fill="#35507a"/><rect x="1000.4" y="289" width="13.6" height="3.2" fill="#8aa37d"/><rect x="1001.6" y="294.6" width="4" height="4.6" fill="#2a1a24"/><rect x="1007.5" y="294.6" width="2" height="4.6" fill="#8a2d3a"/><rect x="1011" y="294.6" width="2" height="4.6" fill="#cdd6e6"/><rect x="978.8" y="313.7" width="18.8" height="8.2" fill="#4a1a26"/><rect x="978.8" y="316.5" width="18.8" height="2.6" fill="#6e2430"/>
<ellipse cx="832" cy="266.2" rx="6.3" ry="6.9" fill="#16337c"/><ellipse cx="832" cy="266.5" rx="6.9" ry="1.9" fill="#16337c"/><ellipse cx="854" cy="266.2" rx="6.3" ry="6.9" fill="#16337c"/><ellipse cx="854" cy="266.5" rx="6.9" ry="1.9" fill="#16337c"/><ellipse cx="875.5" cy="266.2" rx="6.3" ry="6.9" fill="#16337c"/><ellipse cx="875.5" cy="266.5" rx="6.9" ry="1.9" fill="#16337c"/><ellipse cx="821" cy="281.2" rx="6.3" ry="6.9" fill="#16337c"/><ellipse cx="821" cy="281.5" rx="6.9" ry="1.9" fill="#16337c"/><ellipse cx="843" cy="281.2" rx="6.3" ry="6.9" fill="#16337c"/><ellipse cx="843" cy="281.5" rx="6.9" ry="1.9" fill="#16337c"/><ellipse cx="864.5" cy="281.2" rx="6.3" ry="6.9" fill="#16337c"/><ellipse cx="864.5" cy="281.5" rx="6.9" ry="1.9" fill="#16337c"/><ellipse cx="886" cy="281.2" rx="6.3" ry="6.9" fill="#16337c"/><ellipse cx="886" cy="281.5" rx="6.9" ry="1.9" fill="#16337c"/><ellipse cx="810.5" cy="295.2" rx="6.3" ry="6.9" fill="#16337c"/><ellipse cx="810.5" cy="295.5" rx="6.9" ry="1.9" fill="#16337c"/><ellipse cx="832" cy="295.2" rx="6.3" ry="6.9" fill="#16337c"/><ellipse cx="832" cy="295.5" rx="6.9" ry="1.9" fill="#16337c"/><ellipse cx="854" cy="295.2" rx="6.3" ry="6.9" fill="#16337c"/><ellipse cx="854" cy="295.5" rx="6.9" ry="1.9" fill="#16337c"/><ellipse cx="875.5" cy="295.2" rx="6.3" ry="6.9" fill="#16337c"/><ellipse cx="875.5" cy="295.5" rx="6.9" ry="1.9" fill="#16337c"/><ellipse cx="897" cy="295.2" rx="6.3" ry="6.9" fill="#16337c"/><ellipse cx="897" cy="295.5" rx="6.9" ry="1.9" fill="#16337c"/><path d="M799.5,325.5 V309 Q799.5,304.3 804,304.2 L803.5,304.2 L806.1,301.9 L810.5,310 L814.9,301.9 L817.5,304.2 L819.0,304.2 Q821.35,305 821.35,307 Q821.35,305 823.7,304.2 L825,304.2 L827.6,301.9 L832,310 L836.4,301.9 L839,304.2 L840.5,304.2 Q842.85,305 842.85,307 Q842.85,305 845.2,304.2 L847,304.2 L849.6,301.9 L854,310 L858.4,301.9 L861,304.2 L862.5,304.2 Q864.85,305 864.85,307 Q864.85,305 867.2,304.2 L868.5,304.2 L871.1,301.9 L875.5,310 L879.9,301.9 L882.5,304.2 L884.0,304.2 Q886.35,305 886.35,307 Q886.35,305 888.7,304.2 L890,304.2 L892.6,301.9 L897,310 L901.4,301.9 L904,304.2 L903.5,304.2 Q908,304.3 908,309 V325.5 Q908,327.5 906,327.5 H801.5 Q799.5,327.5 799.5,325.5 Z" fill="#16337c"/><polygon points="805.6,301.6 815.4,301.6 811.1,310.0 809.9,310.0" fill="#fff"/><polygon points="809.4,303.2 811.6,303.2 811.1,305.2 811.4,309.6 809.6,309.6 809.9,305.2" fill="#16337c"/><polygon points="827.1,301.6 836.9,301.6 832.6,310.0 831.4,310.0" fill="#fff"/><polygon points="830.9,303.2 833.1,303.2 832.6,305.2 832.9,309.6 831.1,309.6 831.4,305.2" fill="#16337c"/><polygon points="849.1,301.6 858.9,301.6 854.6,310.0 853.4,310.0" fill="#fff"/><polygon points="852.9,303.2 855.1,303.2 854.6,305.2 854.9,309.6 853.1,309.6 853.4,305.2" fill="#16337c"/><polygon points="870.6,301.6 880.4,301.6 876.1,310.0 874.9,310.0" fill="#fff"/><polygon points="874.4,303.2 876.6,303.2 876.1,305.2 876.4,309.6 874.6,309.6 874.9,305.2" fill="#16337c"/><polygon points="892.1,301.6 901.9,301.6 897.6,310.0 896.4,310.0" fill="#fff"/><polygon points="895.9,303.2 898.1,303.2 897.6,305.2 897.9,309.6 896.1,309.6 896.4,305.2" fill="#16337c"/><rect x="802.9" y="326" width="15.2" height="21.6" fill="#16337c"/><rect x="824.4" y="326" width="15.2" height="21.6" fill="#16337c"/><rect x="846.4" y="326" width="15.2" height="21.6" fill="#16337c"/><rect x="867.9" y="326" width="15.2" height="21.6" fill="#16337c"/><rect x="889.4" y="326" width="15.2" height="21.6" fill="#16337c"/><rect x="820.9" y="308" width="0.7" height="19.5" fill="#5b74ad" opacity="0.0"/><rect x="842.65" y="308" width="0.7" height="19.5" fill="#5b74ad" opacity="0.0"/><rect x="864.4" y="308" width="0.7" height="19.5" fill="#5b74ad" opacity="0.0"/><rect x="885.9" y="308" width="0.7" height="19.5" fill="#5b74ad" opacity="0.0"/>
<path d="M909.4,289.6 Q912.5,288.6 915.9,290 Q918.6,297 918.3,306 V335 L921,339.4 H977 Q977.6,343 976.5,346.4 H918 Q914.2,346 914.3,341 L913.2,306 Q912.8,296 909.4,289.6Z" fill="#e2622a"/><path d="M921.3,302.4 L974.5,313 Q978.6,322 975.2,334.6 L921.3,335.2Z" fill="#f77637"/><rect x="927.0" y="345" width="3.2" height="4" fill="#e2622a"/><circle cx="928.6" cy="350.8" r="4.1" fill="#e2622a"/><circle cx="928.6" cy="350.8" r="1.3" fill="#f5a070"/><rect x="966.1" y="345" width="3.2" height="4" fill="#e2622a"/><circle cx="967.7" cy="350.8" r="4.1" fill="#e2622a"/><circle cx="967.7" cy="350.8" r="1.3" fill="#f5a070"/>
<path d="M438.5,360.7 437.8,356.7 436.7,353.5 435.0,350.6 433.0,348.0 429.9,345.3 427.1,343.6 423.3,342.2 420.0,341.6 416.7,341.5 413.3,342.0 410.2,343.1 407.2,344.6 404.5,346.6 402.2,349.0 400.2,351.8 399.0,354.4 395.5,353.7 391.7,353.5 388.0,354.2 384.4,355.5 382.2,356.8 380.6,357.9 378.8,359.7 377.5,361.1 375.8,363.8 374.5,366.7 373.8,369.8 373.5,372.6 370.5,374.4 368.3,376.3 366.4,378.5 364.6,381.6 363.8,383.8 363.3,385.5 363.1,387.2 363.0,389.6 363.2,391.3 363.6,393.7 364.9,397.0 366.0,399.0 367.5,400.9 369.1,402.5 371.0,404.0 373.0,405.1 375.8,406.2 378.7,406.8 381.6,407.0 383.5,409.5 386.0,412.0 388.4,413.7 391.6,415.3 393.6,416.1 395.7,416.6 397.8,416.9 400.7,417.0 403.6,416.7 405.7,416.3 407.7,415.6 409.7,414.7 411.6,413.7 414.0,412.0 415.6,410.6 417.0,409.0 418.7,406.6 419.7,404.7 420.6,402.7 421.3,400.7 421.7,398.6 422.0,395.7 422.0,393.6 421.7,391.4 421.3,389.3 420.3,386.6 419.4,384.6 418.1,382.5 420.7,382.3 422.7,382.0 426.5,380.7 429.9,378.7 433.0,376.0 434.7,373.9 435.8,372.2 437.4,368.6 438.3,364.7Z" fill="#e4e4e8" filter="url(#cbl)"/><path d="M434.0,361.0 433.5,357.9 432.6,355.4 431.3,353.1 429.3,350.7 426.9,348.7 424.6,347.4 421.6,346.4 418.5,346.0 415.9,346.1 413.4,346.7 410.9,347.7 408.7,349.0 406.7,350.7 405.3,352.3 404.1,354.0 402.5,357.3 401.8,357.9 400.7,358.6 399.8,358.9 398.5,358.9 395.0,358.1 392.0,358.0 388.6,358.6 385.9,359.8 383.9,361.1 382.4,362.4 381.1,363.9 380.0,365.5 378.6,368.6 378.2,370.6 377.9,373.6 377.2,375.3 376.2,376.2 373.5,377.8 371.8,379.1 370.3,380.8 368.9,383.0 367.9,385.9 367.5,389.0 367.9,392.1 368.4,393.8 369.1,395.4 370.9,397.9 372.1,399.1 373.5,400.2 375.4,401.3 377.5,402.0 379.7,402.4 382.4,402.6 383.7,403.0 384.8,403.8 386.8,406.5 388.9,408.5 391.3,410.2 393.8,411.4 397.1,412.3 399.4,412.5 401.1,412.5 404.5,411.9 406.2,411.4 408.2,410.4 409.7,409.6 411.5,408.2 413.9,405.7 414.9,404.2 415.9,402.2 416.7,400.1 417.2,398.4 417.5,395.6 417.3,392.1 416.9,390.5 416.2,388.3 413.8,383.9 413.6,382.1 414.1,380.4 415.2,379.1 416.7,378.2 421.1,377.7 422.6,377.3 424.6,376.6 426.9,375.3 429.3,373.3 431.3,370.9 432.3,369.1 433.0,367.6 433.8,364.6 434.0,363.0Z" fill="#fafafb" filter="url(#cbl2)"/><path d="M542.7,344.5 540.2,341.2 537.8,338.8 535.2,336.8 531.5,334.8 528.4,333.6 524.3,332.7 520.2,332.5 516.8,332.8 513.6,333.6 509.7,335.1 506.1,337.3 503.6,339.4 500.8,342.5 498.5,346.0 496.9,349.8 496.0,353.0 495.5,357.2 495.6,360.5 496.2,363.8 497.1,367.0 498.1,369.3 499.3,371.5 500.8,373.5 502.4,375.4 504.2,377.2 506.1,378.7 508.2,380.1 510.3,381.1 510.1,383.4 510.0,385.8 510.5,389.9 511.6,393.8 512.6,396.1 513.8,398.2 515.2,400.2 516.8,402.1 518.5,403.8 520.4,405.3 522.5,406.7 524.7,407.8 527.0,408.7 530.1,409.5 533.4,409.9 536.6,409.9 539.9,409.5 543.0,408.7 545.3,407.8 547.5,406.7 550.9,404.3 553.8,401.5 555.3,399.6 556.5,397.7 560.2,398.4 563.8,398.4 567.4,397.7 570.7,396.3 572.3,395.4 574.2,393.9 576.7,391.3 578.0,389.2 578.9,387.6 579.5,385.9 580.1,383.6 580.5,380.6 580.3,377.6 579.7,374.6 578.6,371.8 577.0,369.2 575.1,366.9 572.8,365.0 570.0,363.3 569.1,360.1 567.8,357.4 566.3,354.9 564.4,352.6 562.8,351.1 560.5,349.3 558.0,347.8 555.9,346.9 552.4,345.9 549.5,345.5 546.5,345.5 543.5,346.0Z" fill="#e4e4e8" filter="url(#cbl)"/><path d="M538.8,346.9 536.8,344.2 534.3,341.8 531.5,339.8 529.0,338.6 525.8,337.5 523.1,337.1 519.6,337.0 516.2,337.5 513.0,338.6 510.5,339.8 507.7,341.8 505.2,344.2 503.2,346.9 501.6,350.0 500.7,352.6 500.1,355.9 500.0,359.4 500.5,362.8 501.6,366.0 503.2,369.1 504.8,371.3 507.2,373.8 509.9,375.8 513.0,377.5 513.9,378.5 514.4,379.2 514.8,380.9 514.5,385.0 514.9,389.0 516.1,392.8 518.0,396.4 520.5,399.5 522.5,401.3 524.2,402.4 525.9,403.4 528.4,404.4 530.3,405.0 533.0,405.4 535.7,405.5 539.0,405.1 541.6,404.4 544.7,403.1 546.9,401.7 549.0,400.0 551.3,397.5 553.2,394.7 553.8,394.1 555.0,393.5 556.7,393.2 560.6,393.9 563.4,393.9 566.5,393.3 569.0,392.1 571.6,390.2 573.6,387.8 575.1,384.9 575.6,383.2 575.9,381.4 576.0,379.1 575.6,376.8 574.9,374.6 574.1,373.0 572.8,371.1 571.6,369.8 569.8,368.4 567.3,366.9 566.3,365.9 565.9,365.1 564.8,361.7 563.9,359.5 562.3,357.0 560.3,354.9 558.5,353.4 556.5,352.1 554.3,351.2 552.7,350.6 550.3,350.2 548.6,350.0 546.2,350.1 543.6,350.5 541.8,350.1 540.7,349.5 540.0,348.9Z" fill="#fafafb" filter="url(#cbl2)"/><path d="M507.8,366.7 507.2,363.6 506.4,360.6 505.6,358.4 504.3,355.7 503.1,353.6 501.3,351.1 499.8,349.3 498.2,347.7 495.9,345.7 494.0,344.3 491.3,342.7 489.3,341.7 487.1,340.8 484.2,339.9 481.9,339.5 478.8,339.1 476.5,339.0 474.2,339.1 471.9,339.3 469.6,339.8 466.6,340.6 464.4,341.4 462.3,342.4 460.3,343.5 458.4,344.7 455.9,346.6 454.2,348.2 452.6,349.9 451.2,351.7 449.9,353.6 448.7,355.7 447.7,357.8 445.0,356.8 441.7,356.0 438.3,355.6 435.7,355.6 432.3,356.0 429.7,356.6 427.1,357.4 424.1,358.8 421.8,360.2 420.1,361.4 417.2,364.1 415.8,365.6 414.2,367.8 412.2,371.3 410.8,375.0 410.1,377.7 409.8,379.6 409.6,383.7 409.7,385.7 410.1,388.1 405.6,388.1 403.3,388.3 401.0,388.8 398.7,389.4 396.5,390.1 392.9,391.8 390.9,393.0 388.9,394.3 387.1,395.8 385.4,397.4 382.8,400.3 381.4,402.2 380.2,404.2 378.4,407.8 377.2,411.5 376.3,415.3 376.0,419.2 376.2,423.1 376.8,427.0 377.4,429.3 378.1,431.5 379.8,435.1 381.0,437.1 382.3,439.1 383.8,440.9 385.4,442.6 387.7,444.7 389.6,446.2 391.5,447.4 393.6,448.6 396.5,449.9 399.5,450.8 402.5,451.5 405.6,451.9 408.8,452.0 411.9,451.8 415.0,451.2 418.5,450.2 419.5,452.2 420.7,454.3 423.0,457.5 425.7,460.4 427.5,462.0 429.4,463.4 432.8,465.5 434.9,466.5 437.1,467.4 440.9,468.5 443.3,469.0 445.6,469.2 448.0,469.3 450.4,469.2 452.7,469.0 455.1,468.5 457.4,467.9 459.6,467.1 461.8,466.2 463.9,465.1 465.9,463.9 467.9,462.5 469.7,460.9 471.4,459.3 473.0,457.5 474.4,455.6 476.7,451.9 477.7,454.0 478.8,455.9 480.5,458.3 481.9,460.0 483.5,461.6 485.7,463.5 487.4,464.8 490.0,466.3 492.6,467.5 494.7,468.3 497.5,469.1 499.6,469.5 502.5,469.8 504.7,469.8 506.9,469.7 509.8,469.2 513.3,468.3 516.7,466.9 519.9,465.2 522.9,463.0 525.6,460.5 527.9,457.8 529.9,454.7 531.5,451.5 534.1,451.9 536.3,452.0 539.2,451.9 541.4,451.7 544.3,451.1 546.4,450.5 549.2,449.4 551.1,448.5 553.7,446.9 556.0,445.2 558.2,443.2 560.2,441.0 561.9,438.7 563.5,436.1 564.7,433.5 565.7,430.7 566.4,427.9 566.9,424.9 567.0,422.0 566.9,419.1 566.4,416.1 565.7,413.3 564.7,410.5 563.5,407.9 561.9,405.3 560.2,403.0 558.2,400.8 556.0,398.8 553.7,397.1 551.1,395.5 548.5,394.3 546.1,393.4 546.3,390.0 546.1,386.8 545.5,383.6 544.3,379.9 542.6,376.5 540.7,373.8 538.1,371.0 535.7,368.9 532.4,366.8 529.5,365.5 526.4,364.5 522.6,363.8 518.7,363.7 514.9,364.2 511.1,365.2Z" fill="#6eaddc"/><path d="M453.4,360.4 452.5,361.8 451.6,362.7 450.0,363.6 448.8,364.0 447.6,364.1 446.4,363.9 442.6,362.7 440.1,362.1 438.0,361.9 435.4,362.0 432.9,362.3 429.9,363.1 427.5,364.2 425.3,365.5 422.5,367.7 420.4,370.0 418.6,372.6 417.3,375.4 416.4,378.4 416.0,381.4 415.9,384.0 416.4,387.5 416.3,388.8 415.8,390.6 414.8,392.2 413.3,393.5 411.6,394.2 410.3,394.4 406.1,394.4 403.6,394.7 400.5,395.4 397.6,396.5 394.8,398.0 392.2,399.7 389.8,401.8 387.7,404.2 386.3,406.3 385.0,408.4 384.0,410.8 383.2,413.1 382.7,415.6 382.4,418.1 382.3,420.6 382.5,423.1 382.9,425.6 383.6,428.1 384.5,430.4 385.6,432.7 387.0,434.8 388.5,436.8 390.3,438.6 392.2,440.3 394.8,442.0 397.6,443.5 400.5,444.6 404.2,445.4 406.7,445.7 409.9,445.6 413.6,445.1 417.7,444.0 419.5,444.0 420.7,444.3 422.3,445.2 423.2,446.0 424.0,447.0 425.7,450.4 427.5,453.0 430.1,455.8 432.5,457.9 435.7,459.9 439.2,461.5 442.9,462.5 446.1,462.9 449.9,462.9 453.7,462.4 457.4,461.3 460.3,459.9 462.4,458.6 464.0,457.5 466.8,454.9 468.9,452.5 470.0,450.9 471.4,448.4 472.6,447.1 473.6,446.4 474.8,445.9 476.6,445.6 477.8,445.7 479.6,446.3 481.1,447.4 482.2,448.8 484.1,452.6 485.8,454.9 488.2,457.4 490.9,459.5 492.4,460.4 494.5,461.5 497.7,462.6 501.1,463.3 504.6,463.5 508.0,463.2 511.4,462.3 514.6,461.0 516.1,460.2 518.0,458.9 520.2,457.0 522.2,454.9 524.2,452.1 526.3,447.9 527.5,446.6 528.5,445.9 530.2,445.3 531.4,445.2 535.8,445.7 539.3,445.6 542.2,445.1 545.0,444.3 548.2,442.9 551.1,441.0 553.8,438.8 556.0,436.1 557.6,433.7 559.1,430.5 560.0,427.8 560.5,424.9 560.7,422.0 560.5,419.1 560.0,416.2 559.1,413.5 557.9,410.8 556.7,408.8 554.9,406.5 552.9,404.4 551.1,403.0 548.7,401.4 546.1,400.1 543.6,399.2 542.5,398.6 541.5,397.8 540.8,396.8 540.2,395.7 539.9,394.4 539.8,393.2 540.0,390.0 539.9,388.0 539.5,385.6 538.7,382.8 537.4,380.1 535.8,377.7 533.8,375.5 531.9,373.9 529.4,372.4 526.7,371.2 523.9,370.4 521.0,370.0 518.0,370.1 515.6,370.5 512.8,371.3 509.5,372.8 508.3,373.0 506.5,372.9 504.8,372.3 503.3,371.2 502.2,369.7 501.6,368.0 500.8,363.8 499.5,360.3 497.8,357.0 496.4,355.0 495.2,353.6 493.9,352.2 492.0,350.6 490.5,349.5 488.4,348.3 485.0,346.8 483.2,346.2 480.8,345.7 477.1,345.3 474.6,345.4 472.8,345.6 471.0,345.9 468.6,346.6 466.9,347.2 464.6,348.3 463.0,349.2 461.0,350.6 459.1,352.2 457.8,353.6 456.6,355.0 455.2,357.0Z" fill="#f0f1f4"/><path d="M458.2,358.9 455.3,363.9 453.7,365.5 451.5,366.8 449.6,367.4 448.4,367.5 446.4,367.5 444.9,367.2 442.5,366.3 440.4,365.7 438.3,365.4 436.1,365.4 433.6,365.7 431.5,366.3 429.1,367.3 427.2,368.4 425.2,370.0 423.4,371.8 421.7,374.3 420.6,376.7 419.8,379.1 419.4,381.7 419.4,384.3 419.9,388.1 419.7,390.0 418.9,392.2 418.1,393.6 417.3,394.7 415.3,396.4 414.1,397.0 412.6,397.5 410.6,397.9 407.5,397.8 404.7,398.0 402.1,398.6 399.5,399.5 397.1,400.7 394.8,402.2 392.7,403.9 390.8,405.9 389.5,407.7 388.4,409.5 387.5,411.5 386.8,413.6 386.2,415.7 385.9,417.8 385.8,420.0 385.9,422.2 386.2,424.3 386.8,426.4 387.5,428.5 388.4,430.5 389.5,432.3 390.8,434.1 392.3,435.7 393.9,437.2 396.6,439.0 399.0,440.3 401.6,441.2 404.7,442.0 407.5,442.2 410.7,442.0 413.4,441.5 416.4,440.6 418.0,440.4 419.9,440.5 422.1,441.1 424.3,442.3 425.8,443.6 426.9,445.1 428.7,448.6 430.3,450.8 432.5,453.3 434.6,455.1 437.4,456.8 440.4,458.2 443.6,459.1 446.9,459.5 449.7,459.4 452.9,459.0 455.6,458.2 458.6,456.8 461.8,454.7 464.3,452.5 466.4,450.0 468.9,445.9 469.8,444.9 471.0,443.9 473.0,442.8 474.8,442.3 476.7,442.1 478.6,442.3 480.1,442.7 481.3,443.3 482.7,444.1 483.6,445.0 484.8,446.5 486.6,449.9 488.2,452.3 490.6,454.8 492.9,456.6 495.9,458.3 498.7,459.3 501.6,459.8 504.5,460.0 507.9,459.6 510.7,458.8 513.9,457.4 516.3,455.8 518.1,454.1 520.1,451.9 521.4,449.9 522.8,446.9 523.9,445.4 525.2,444.0 527.0,442.8 528.8,442.1 530.6,441.7 532.2,441.7 536.0,442.2 538.0,442.2 540.5,441.9 543.3,441.2 546.5,439.8 549.0,438.2 551.3,436.3 553.2,434.0 554.6,432.0 555.7,429.7 556.6,426.9 557.0,424.5 557.2,421.5 557.0,419.0 556.5,416.6 555.7,414.3 554.6,412.0 553.2,410.0 551.6,408.1 550.2,406.7 548.2,405.2 546.5,404.2 542.0,402.3 540.6,401.6 539.1,400.3 537.9,398.8 536.9,396.7 536.4,394.8 536.3,393.2 536.5,390.8 536.5,388.8 536.2,386.8 535.5,384.4 534.6,382.2 533.3,380.2 531.7,378.3 529.8,376.7 527.8,375.4 525.6,374.5 523.2,373.8 520.8,373.5 518.4,373.6 516.0,374.0 514.1,374.6 510.7,376.1 508.8,376.5 507.5,376.5 505.7,376.3 504.2,375.8 503.0,375.3 501.7,374.4 500.7,373.6 499.8,372.4 499.1,371.3 498.4,369.5 497.5,365.2 496.5,362.2 494.8,358.9 492.9,356.3 490.3,353.7 487.7,351.9 484.3,350.3 480.7,349.2 477.0,348.8 473.3,349.0 469.7,349.9 466.3,351.4 463.1,353.4 460.4,355.9Z" fill="#fdfdfe" filter="url(#cbl2)"/>
<path d="M437.7,398.6 C436.8,398.0 434.5,395.7 432.5,395.4 C430.6,395.1 428.4,395.6 426.1,396.7 C423.9,397.7 421.0,399.6 419.1,401.8 C417.2,403.9 415.5,406.9 414.6,409.5 C413.8,412.0 413.4,414.7 414.0,417.1 C414.5,419.6 415.9,422.6 417.8,424.2 C419.7,425.8 422.9,426.9 425.5,426.8 C428.1,426.6 430.7,425.0 433.2,423.6 C435.6,422.1 438.1,419.8 440.2,417.8 C442.3,415.8 444.8,412.4 445.7,411.4" fill="none" stroke="#5f8bb3" stroke-width="1.75" stroke-linecap="round" stroke-dasharray="0.01 3.05"/><path d="M432.5,438.9 C433.3,438.2 435.4,436.0 437.0,434.4 C438.6,432.8 440.7,431.1 442.1,429.3 C443.6,427.5 444.7,425.8 446.0,423.6 C447.3,421.3 448.7,418.9 449.8,415.9 C451.0,412.9 452.2,409.2 453.0,405.6 C453.9,402.0 454.6,397.0 455.0,394.1 C455.3,391.2 455.4,389.6 455.0,388.3 C454.5,387.0 453.3,386.1 452.4,386.4 C451.5,386.7 450.2,388.5 449.6,390.2 C448.9,392.0 448.7,394.3 448.6,396.7 C448.4,399.0 448.4,401.8 448.6,404.3 C448.7,406.9 448.8,409.7 449.2,412.0 C449.6,414.4 450.2,416.9 451.1,418.4 C452.1,420.0 453.6,420.6 455.0,421.2 C456.3,421.9 458.7,422.1 459.4,422.3" fill="none" stroke="#5f8bb3" stroke-width="1.75" stroke-linecap="round" stroke-dasharray="0.01 3.05"/><path d="M474.2,399.2 C473.2,399.4 470.0,399.5 468.4,400.5 C466.8,401.5 465.5,403.2 464.6,405.0 C463.6,406.8 462.6,409.1 462.6,411.4 C462.6,413.6 463.4,416.8 464.6,418.4 C465.7,420.1 468.0,421.1 469.7,421.2 C471.4,421.4 473.4,420.2 474.8,419.1 C476.2,418.0 477.5,416.3 478.3,414.6 C479.0,412.9 479.4,410.8 479.3,408.8 C479.2,406.9 478.5,404.4 477.6,402.8 C476.8,401.2 474.7,399.8 474.2,399.2" fill="none" stroke="#5f8bb3" stroke-width="1.75" stroke-linecap="round" stroke-dasharray="0.01 3.05"/><path d="M477.6,402.8 C478.3,402.5 480.4,401.6 481.6,401.3 C482.8,400.9 484.5,400.6 485.1,400.5" fill="none" stroke="#5f8bb3" stroke-width="1.75" stroke-linecap="round" stroke-dasharray="0.01 3.05"/><path d="M485.1,400.5 C485.0,401.8 484.6,405.8 484.9,408.2 C485.2,410.5 485.7,412.9 487.0,414.6 C488.3,416.3 490.8,418.3 492.7,418.4 C494.7,418.5 497.0,416.9 498.5,415.2 C500.0,413.5 501.0,410.7 501.7,408.2 C502.5,405.6 502.8,401.2 503.0,399.9" fill="none" stroke="#5f8bb3" stroke-width="1.75" stroke-linecap="round" stroke-dasharray="0.01 3.05"/><path d="M503.0,399.9 C503.1,401.5 502.9,406.8 503.4,409.5 C503.9,412.1 505.0,414.5 505.9,415.9 C506.9,417.3 508.5,417.6 509.0,417.9" fill="none" stroke="#5f8bb3" stroke-width="1.75" stroke-linecap="round" stroke-dasharray="0.01 3.05"/><path d="M525.4,405.6 C524.6,405.2 522.2,403.2 520.3,403.1 C518.4,402.9 515.8,403.7 513.9,405.0 C512.0,406.3 509.6,408.7 509.0,410.7 C508.4,412.8 508.8,415.7 510.0,417.1 C511.3,418.6 514.3,419.4 516.4,419.2 C518.6,419.0 521.0,417.6 522.8,415.9 C524.7,414.1 526.6,410.0 527.3,408.8" fill="none" stroke="#5f8bb3" stroke-width="1.75" stroke-linecap="round" stroke-dasharray="0.01 3.05"/><path d="M531.2,387.7 C531.0,389.2 530.4,393.7 529.9,396.7 C529.4,399.6 528.5,402.8 528.0,405.6 C527.4,408.4 526.7,411.1 526.7,413.3 C526.7,415.5 527.8,417.8 528.0,418.7" fill="none" stroke="#5f8bb3" stroke-width="1.75" stroke-linecap="round" stroke-dasharray="0.01 3.05"/><text x="469" y="435.2" font-family="'Liberation Sans', sans-serif" font-size="11.5" fill="#4d89b8" textLength="62" lengthAdjust="spacingAndGlyphs">Computing</text>
<path d="M425,463 V489.2 H345.5" fill="none" stroke="#6896c4" stroke-width="1.7" stroke-dasharray="1.8 1.7"/><path d="M506.2,468 V507.6 H588" fill="none" stroke="#6896c4" stroke-width="1.7" stroke-dasharray="1.8 1.7"/>
<path d="M473,229.8 C462,237.5 441,244.5 425.6,246 C423.5,270 432,308 473,326.8 C514,308 522.5,270 520.4,246 C505,244.5 484,237.5 473,229.8Z" fill="#16337c"/><circle cx="473.5" cy="278" r="21.6" fill="#f4f5f8"/><path d="M458,261 L453.2,259.2 L455.6,264.5 L452.8,266.5 L457.5,267Z" fill="#f4f5f8"/><path d="M489,295 L493.8,296.8 L491.4,291.5 L494.2,289.5 L489.5,289Z" fill="#f4f5f8"/><path d="M459.2,273.0 C458.1,274.1 457.5,276.2 457.3,277.9 C457.1,279.6 457.4,281.6 458.1,283.4 C458.8,285.2 460.6,287.6 461.4,288.9 C462.2,290.2 462.4,291.7 463.0,291.1 C463.6,290.6 464.0,287.4 464.7,285.6 C465.4,283.8 466.2,281.4 467.4,280.1 C468.6,278.8 470.3,277.7 471.8,277.9 C473.3,278.1 474.7,280.4 476.2,281.2 C477.7,282.0 479.0,282.7 480.6,282.9 C482.2,283.1 484.8,282.8 486.1,282.3 C487.4,281.8 487.7,281.4 488.3,280.1 C488.9,278.8 489.8,276.6 489.9,274.6 C490.0,272.6 489.4,269.8 488.8,268.0 C488.2,266.2 486.9,264.8 486.1,263.7 C485.3,262.6 484.2,261.0 483.9,261.5 C483.6,262.0 484.7,265.2 484.4,266.9 C484.1,268.6 482.8,270.6 482.2,271.9 C481.6,273.2 481.2,273.8 480.6,274.6 C480.0,275.4 479.5,276.8 478.4,276.8 C477.3,276.8 475.5,275.4 474.0,274.6 C472.5,273.8 471.2,272.4 469.6,271.9 C468.0,271.3 465.8,271.1 464.1,271.3 C462.4,271.5 460.3,271.9 459.2,273.0Z" fill="#16337c"/><circle cx="475.7" cy="265.8" r="1.9" fill="#16337c"/><circle cx="475.9" cy="265.6" r="0.7" fill="#8fa3d0"/><circle cx="471.3" cy="289.4" r="1.9" fill="#16337c"/><circle cx="471.5" cy="289.2" r="0.7" fill="#8fa3d0"/>
<rect x="215" y="241" width="42" height="68.2" rx="5.5" fill="#16337c"/><rect x="219" y="247.3" width="33.8" height="38" rx="1.2" fill="#fbfbfd"/><text x="235.7" y="272.4" font-family="'Liberation Sans', sans-serif" font-weight="bold" font-size="14" text-anchor="middle" fill="#1a2a5e" textLength="26" lengthAdjust="spacingAndGlyphs">PDA</text><rect x="220" y="293" width="11.2" height="4.2" rx="2.1" fill="#fff"/><rect x="239.3" y="293" width="12.4" height="4.2" rx="2.1" fill="#fff"/><circle cx="235" cy="295.1" r="2.5" fill="#fff"/>
<g fill="none" stroke="#f0783a"><circle cx="181.3" cy="505.7" r="43.9" stroke-width="6.2"/><ellipse cx="181.3" cy="505.7" rx="20.6" ry="43.9" stroke-width="6"/><path d="M139,491.4 H224 M139.5,520.8 H223.5" stroke-width="6"/></g><path d="M157.2,509.2 C151.5,497 138.2,486 138.2,472 A18.9,18.9 0 0 1 176,472 C176,486 163,497 157.2,509.2Z" fill="#fff" stroke="#fff" stroke-width="6" stroke-linejoin="round"/><path d="M157.2,509.2 C151.5,497 138.2,486 138.2,472 A18.9,18.9 0 0 1 176,472 C176,486 163,497 157.2,509.2Z" fill="#402c30"/><circle cx="157.2" cy="471.6" r="9.8" fill="#fff"/>
<ellipse cx="276.2" cy="486" rx="4.6" ry="8" fill="#16337c"/><ellipse cx="321.4" cy="486" rx="4.6" ry="8" fill="#16337c"/><path d="M298.8,456.4 C314,456.4 321.4,466 321.4,479 C321.4,497 311,513.8 298.8,513.8 C286.6,513.8 276.2,497 276.2,479 C276.2,466 283.6,456.4 298.8,456.4Z" fill="#16337c"/><circle cx="298.5" cy="480.1" r="15.2" fill="#fafbfd"/><g fill="#16337c"><rect x="-1.15" y="-16" width="2.3" height="3.4" transform="translate(298.5 480.1) rotate(10)"/><rect x="-1.15" y="-16" width="2.3" height="3.4" transform="translate(298.5 480.1) rotate(55)"/><rect x="-1.15" y="-16" width="2.3" height="3.4" transform="translate(298.5 480.1) rotate(100)"/><rect x="-1.15" y="-16" width="2.3" height="3.4" transform="translate(298.5 480.1) rotate(145)"/><rect x="-1.15" y="-16" width="2.3" height="3.4" transform="translate(298.5 480.1) rotate(190)"/><rect x="-1.15" y="-16" width="2.3" height="3.4" transform="translate(298.5 480.1) rotate(235)"/><rect x="-1.15" y="-16" width="2.3" height="3.4" transform="translate(298.5 480.1) rotate(280)"/><rect x="-1.15" y="-16" width="2.3" height="3.4" transform="translate(298.5 480.1) rotate(325)"/></g><circle cx="298.5" cy="480.1" r="6.3" fill="#16337c"/><path d="M253.6,561.8 V541 Q253.6,523.5 273,518.5 L286.3,515 L298.6,544 L312.6,515 L324.5,518.5 Q344.2,523.5 344.2,541 V561.8Z" fill="#16337c"/><path d="M292.2,518.8 H305.8 L301.9,527.4 L303.2,536 L298.6,546 L294.2,536 L296.4,527.4Z" fill="#16337c"/>
<path d="M574.6,554.8 L598.3,517.5 C599.5,505 599,493 599.3,484 C599.5,479 603,478 607.5,480.5 L609,482 V531 L640,533.5 C634,538 628,537 622.5,538 L611,554.8Z" fill="#f6c28b"/><ellipse cx="653.4" cy="477.6" rx="7.2" ry="4.1" transform="rotate(-22 653.4 477.6)" fill="#f6c28b"/><ellipse cx="652.3" cy="487.3" rx="6.6" ry="4.1" transform="rotate(-18 652.3 487.3)" fill="#f6c28b"/><ellipse cx="650.4" cy="497" rx="6.2" ry="4.1" transform="rotate(-16 650.4 497)" fill="#f6c28b"/><ellipse cx="647.8" cy="507.3" rx="5.6" ry="4.3" transform="rotate(-14 647.8 507.3)" fill="#f6c28b"/><rect x="642" y="478" width="8" height="34" fill="#f6c28b"/><rect x="608" y="451.8" width="38.4" height="81.4" rx="5.2" fill="#161616"/><rect x="610.2" y="461.6" width="34.2" height="59.8" fill="#fff"/><rect x="620" y="456.2" width="13.8" height="1.5" rx="0.7" fill="#f0f0f0"/><circle cx="626.9" cy="526.4" r="3.4" fill="#f4f4f4"/><path d="M613.80,478.80h7.45v1.06h-7.45zM624.44,478.80h3.19v1.06h-3.19zM629.76,478.80h1.06v1.06h-1.06zM632.95,478.80h7.45v1.06h-7.45zM613.80,479.86h1.06v1.06h-1.06zM620.18,479.86h1.06v1.06h-1.06zM623.38,479.86h2.13v1.06h-2.13zM629.76,479.86h2.13v1.06h-2.13zM632.95,479.86h1.06v1.06h-1.06zM639.34,479.86h1.06v1.06h-1.06zM613.80,480.93h1.06v1.06h-1.06zM615.93,480.93h3.19v1.06h-3.19zM620.18,480.93h1.06v1.06h-1.06zM623.38,480.93h3.19v1.06h-3.19zM628.70,480.93h3.19v1.06h-3.19zM632.95,480.93h1.06v1.06h-1.06zM635.08,480.93h3.19v1.06h-3.19zM639.34,480.93h1.06v1.06h-1.06zM613.80,481.99h1.06v1.06h-1.06zM615.93,481.99h3.19v1.06h-3.19zM620.18,481.99h1.06v1.06h-1.06zM623.38,481.99h2.13v1.06h-2.13zM627.63,481.99h1.06v1.06h-1.06zM629.76,481.99h2.13v1.06h-2.13zM632.95,481.99h1.06v1.06h-1.06zM635.08,481.99h3.19v1.06h-3.19zM639.34,481.99h1.06v1.06h-1.06zM613.80,483.06h1.06v1.06h-1.06zM615.93,483.06h3.19v1.06h-3.19zM620.18,483.06h1.06v1.06h-1.06zM624.44,483.06h2.13v1.06h-2.13zM628.70,483.06h1.06v1.06h-1.06zM632.95,483.06h1.06v1.06h-1.06zM635.08,483.06h3.19v1.06h-3.19zM639.34,483.06h1.06v1.06h-1.06zM613.80,484.12h1.06v1.06h-1.06zM620.18,484.12h1.06v1.06h-1.06zM624.44,484.12h1.06v1.06h-1.06zM626.57,484.12h5.32v1.06h-5.32zM632.95,484.12h1.06v1.06h-1.06zM639.34,484.12h1.06v1.06h-1.06zM613.80,485.18h7.45v1.06h-7.45zM622.31,485.18h1.06v1.06h-1.06zM624.44,485.18h1.06v1.06h-1.06zM626.57,485.18h1.06v1.06h-1.06zM628.70,485.18h2.13v1.06h-2.13zM632.95,485.18h7.45v1.06h-7.45zM623.38,486.25h1.06v1.06h-1.06zM628.70,486.25h1.06v1.06h-1.06zM614.86,487.31h1.06v1.06h-1.06zM618.06,487.31h3.19v1.06h-3.19zM622.31,487.31h2.13v1.06h-2.13zM626.57,487.31h1.06v1.06h-1.06zM628.70,487.31h1.06v1.06h-1.06zM630.82,487.31h2.13v1.06h-2.13zM636.14,487.31h1.06v1.06h-1.06zM638.27,487.31h2.13v1.06h-2.13zM613.80,488.38h1.06v1.06h-1.06zM619.12,488.38h6.38v1.06h-6.38zM626.57,488.38h2.13v1.06h-2.13zM630.82,488.38h3.19v1.06h-3.19zM635.08,488.38h1.06v1.06h-1.06zM638.27,488.38h1.06v1.06h-1.06zM613.80,489.44h4.26v1.06h-4.26zM619.12,489.44h3.19v1.06h-3.19zM623.38,489.44h1.06v1.06h-1.06zM629.76,489.44h5.32v1.06h-5.32zM636.14,489.44h3.19v1.06h-3.19zM613.80,490.50h1.06v1.06h-1.06zM616.99,490.50h1.06v1.06h-1.06zM620.18,490.50h1.06v1.06h-1.06zM623.38,490.50h2.13v1.06h-2.13zM627.63,490.50h1.06v1.06h-1.06zM632.95,490.50h1.06v1.06h-1.06zM635.08,490.50h1.06v1.06h-1.06zM613.80,491.57h1.06v1.06h-1.06zM618.06,491.57h1.06v1.06h-1.06zM620.18,491.57h1.06v1.06h-1.06zM623.38,491.57h3.19v1.06h-3.19zM628.70,491.57h2.13v1.06h-2.13zM631.89,491.57h1.06v1.06h-1.06zM634.02,491.57h2.13v1.06h-2.13zM637.21,491.57h3.19v1.06h-3.19zM618.06,492.63h1.06v1.06h-1.06zM620.18,492.63h4.26v1.06h-4.26zM626.57,492.63h1.06v1.06h-1.06zM629.76,492.63h2.13v1.06h-2.13zM634.02,492.63h1.06v1.06h-1.06zM637.21,492.63h1.06v1.06h-1.06zM639.34,492.63h1.06v1.06h-1.06zM613.80,493.70h2.13v1.06h-2.13zM616.99,493.70h1.06v1.06h-1.06zM619.12,493.70h2.13v1.06h-2.13zM623.38,493.70h1.06v1.06h-1.06zM625.50,493.70h3.19v1.06h-3.19zM630.82,493.70h4.26v1.06h-4.26zM637.21,493.70h3.19v1.06h-3.19zM615.93,494.76h1.06v1.06h-1.06zM618.06,494.76h3.19v1.06h-3.19zM622.31,494.76h2.13v1.06h-2.13zM625.50,494.76h1.06v1.06h-1.06zM627.63,494.76h11.70v1.06h-11.70zM614.86,495.82h1.06v1.06h-1.06zM619.12,495.82h1.06v1.06h-1.06zM623.38,495.82h2.13v1.06h-2.13zM626.57,495.82h1.06v1.06h-1.06zM629.76,495.82h2.13v1.06h-2.13zM632.95,495.82h2.13v1.06h-2.13zM636.14,495.82h1.06v1.06h-1.06zM638.27,495.82h2.13v1.06h-2.13zM614.86,496.89h2.13v1.06h-2.13zM620.18,496.89h2.13v1.06h-2.13zM623.38,496.89h1.06v1.06h-1.06zM625.50,496.89h4.26v1.06h-4.26zM630.82,496.89h1.06v1.06h-1.06zM613.80,497.95h1.06v1.06h-1.06zM615.93,497.95h1.06v1.06h-1.06zM618.06,497.95h4.26v1.06h-4.26zM623.38,497.95h1.06v1.06h-1.06zM626.57,497.95h2.13v1.06h-2.13zM629.76,497.95h2.13v1.06h-2.13zM632.95,497.95h7.45v1.06h-7.45zM613.80,499.02h1.06v1.06h-1.06zM615.93,499.02h1.06v1.06h-1.06zM619.12,499.02h1.06v1.06h-1.06zM624.44,499.02h1.06v1.06h-1.06zM630.82,499.02h1.06v1.06h-1.06zM632.95,499.02h1.06v1.06h-1.06zM639.34,499.02h1.06v1.06h-1.06zM613.80,500.08h1.06v1.06h-1.06zM616.99,500.08h1.06v1.06h-1.06zM620.18,500.08h2.13v1.06h-2.13zM627.63,500.08h1.06v1.06h-1.06zM630.82,500.08h1.06v1.06h-1.06zM632.95,500.08h1.06v1.06h-1.06zM635.08,500.08h3.19v1.06h-3.19zM639.34,500.08h1.06v1.06h-1.06zM613.80,501.14h1.06v1.06h-1.06zM620.18,501.14h1.06v1.06h-1.06zM623.38,501.14h1.06v1.06h-1.06zM625.50,501.14h4.26v1.06h-4.26zM630.82,501.14h1.06v1.06h-1.06zM632.95,501.14h1.06v1.06h-1.06zM635.08,501.14h3.19v1.06h-3.19zM639.34,501.14h1.06v1.06h-1.06zM613.80,502.21h1.06v1.06h-1.06zM615.93,502.21h5.32v1.06h-5.32zM622.31,502.21h1.06v1.06h-1.06zM625.50,502.21h1.06v1.06h-1.06zM628.70,502.21h1.06v1.06h-1.06zM630.82,502.21h1.06v1.06h-1.06zM632.95,502.21h1.06v1.06h-1.06zM635.08,502.21h3.19v1.06h-3.19zM639.34,502.21h1.06v1.06h-1.06zM615.93,503.27h1.06v1.06h-1.06zM618.06,503.27h6.38v1.06h-6.38zM625.50,503.27h2.13v1.06h-2.13zM628.70,503.27h1.06v1.06h-1.06zM630.82,503.27h1.06v1.06h-1.06zM632.95,503.27h1.06v1.06h-1.06zM639.34,503.27h1.06v1.06h-1.06zM613.80,504.34h2.13v1.06h-2.13zM621.25,504.34h2.13v1.06h-2.13zM626.57,504.34h4.26v1.06h-4.26zM632.95,504.34h7.45v1.06h-7.45z" fill="#111" shape-rendering="crispEdges"/><rect x="611" y="490.8" width="32.6" height="1.1" fill="#3d73ad"/>
<circle cx="749.9" cy="516.6" r="69.7" fill="#e0672e"/><circle cx="749.9" cy="516.6" r="64.3" fill="#fdfcfd"/><g clip-path="url(#wg)"><rect x="680.1999999999999" y="446.90000000000003" width="69.7" height="139.4" fill="#e7e2e7"/><path d="M705.6,469.4 C708.1,467.0 710.5,464.8 713.8,463.5 C717.1,462.2 721.8,461.6 725.6,461.6 C729.4,461.6 733.3,463.3 736.6,463.5 C739.9,463.7 743.9,462.1 745.5,463.0 C747.2,464.0 747.3,467.4 746.7,469.4 C746.1,471.4 744.0,473.5 742.0,475.3 C740.1,477.0 736.9,478.0 735.0,480.0 C733.0,481.9 731.7,485.0 730.3,487.0 C728.8,489.1 727.8,490.8 726.3,492.2 C724.7,493.6 722.3,493.7 720.8,495.3 C719.4,496.8 718.3,499.4 717.3,501.6 C716.3,503.8 715.8,506.5 715.0,508.7 C714.1,510.9 713.3,513.3 712.2,514.8 C711.0,516.3 709.4,516.3 707.9,517.6 C706.4,518.8 704.8,522.2 703.2,522.3 C701.6,522.4 700.5,519.3 698.5,518.1 C696.6,516.8 693.5,516.4 691.5,514.8 C689.4,513.1 687.3,510.5 686.3,508.2 C685.3,505.8 685.1,503.2 685.6,500.7 C686.1,498.1 687.8,495.4 689.1,492.9 C690.4,490.4 691.8,488.4 693.3,485.8 C694.9,483.3 696.5,480.4 698.5,477.6 C700.6,474.9 703.0,471.7 705.6,469.4Z" fill="#6b5661"/><path d="M704.4,534.1 C705.9,532.1 709.3,531.1 712.6,530.5 C716.0,529.9 721.0,529.7 724.4,530.5 C727.7,531.3 730.3,533.5 732.6,535.2 C734.9,537.0 737.6,538.8 738.0,541.1 C738.4,543.5 736.3,547.0 735.0,549.3 C733.7,551.7 731.8,553.0 730.3,555.2 C728.7,557.4 727.0,560.0 725.6,562.7 C724.1,565.5 723.0,569.5 721.6,571.7 C720.1,573.9 718.3,575.9 716.9,575.9 C715.4,575.9 714.1,574.3 713.1,571.7 C712.1,569.0 711.8,563.4 710.7,559.9 C709.7,556.4 707.9,553.4 706.7,550.5 C705.6,547.6 704.1,545.0 703.7,542.3 C703.3,539.5 702.9,536.0 704.4,534.1Z" fill="#6b5661"/><path d="M742.0,510.5 C743.3,508.0 744.8,507.1 746.7,505.8 C748.7,504.6 750.8,503.3 753.8,503.0 C756.7,502.7 760.6,503.3 764.3,504.0 C768.1,504.6 773.2,505.1 776.1,507.0 C779.0,508.9 780.4,513.0 782.0,515.2 C783.6,517.5 783.7,519.3 785.5,520.4 C787.4,521.5 792.4,520.1 793.0,521.8 C793.6,523.5 790.7,527.9 789.0,530.5 C787.4,533.1 784.7,535.0 783.2,537.6 C781.6,540.1 780.4,542.9 779.6,545.8 C778.8,548.7 779.6,552.5 778.5,555.2 C777.3,558.0 774.5,560.6 772.6,562.3 C770.7,563.9 768.7,565.7 767.2,565.1 C765.6,564.5 764.1,561.6 763.2,558.7 C762.2,555.9 762.0,551.3 761.5,548.2 C761.0,545.0 761.4,542.2 760.1,539.9 C758.8,537.7 756.4,536.0 753.8,534.5 C751.1,533.1 746.8,533.5 744.4,531.2 C741.9,529.0 739.3,524.6 739.0,521.1 C738.6,517.7 740.7,513.1 742.0,510.5Z" fill="#6b5661"/><path d="M745.5,496.0 C745.4,494.5 748.0,493.5 749.8,492.9 C751.5,492.3 754.0,491.9 756.1,492.2 C758.2,492.5 760.3,494.3 762.5,494.5 C764.6,494.8 766.4,493.6 769.1,493.6 C771.7,493.6 776.3,493.7 778.5,494.5 C780.6,495.4 782.0,497.4 782.0,498.8 C782.0,500.2 780.4,502.5 778.5,503.0 C776.5,503.5 772.6,501.6 770.2,501.6 C767.9,501.6 766.5,503.2 764.3,503.0 C762.2,502.9 759.6,500.9 757.3,500.7 C755.0,500.4 752.7,502.4 750.7,501.6 C748.8,500.8 745.7,497.4 745.5,496.0Z" fill="#6b5661"/><path d="M778.0,463.5 C779.7,461.6 784.5,461.3 787.9,461.6 C791.3,461.9 795.3,463.1 798.4,465.4 C801.6,467.7 804.3,471.7 806.7,475.3 C809.0,478.9 810.9,482.7 812.5,487.0 C814.2,491.3 815.8,496.4 816.5,501.1 C817.3,505.8 817.7,511.1 817.3,515.2 C816.8,519.4 815.3,523.4 813.7,525.8 C812.2,528.3 809.5,530.6 807.8,529.8 C806.2,529.0 805.4,523.0 803.9,521.1 C802.3,519.3 800.1,520.5 798.4,518.8 C796.8,517.0 795.2,513.4 793.7,510.5 C792.3,507.7 791.4,504.0 789.7,501.6 C788.1,499.3 785.3,498.3 783.6,496.4 C781.9,494.6 780.9,492.9 779.6,490.6 C778.4,488.2 776.5,485.3 776.1,482.3 C775.8,479.4 777.2,476.1 777.5,472.9 C777.8,469.8 776.3,465.4 778.0,463.5Z" fill="#6b5661"/><path d="M777.5,492.9 C777.4,490.5 779.9,487.8 781.3,487.0 C782.6,486.2 783.6,486.2 785.5,488.2 C787.4,490.2 790.5,495.1 792.6,498.8 C794.6,502.5 797.7,508.4 797.7,510.5 C797.7,512.7 794.3,512.1 792.6,511.7 C790.8,511.3 789.2,509.9 787.4,508.2 C785.6,506.5 783.6,504.2 782.0,501.6 C780.3,499.1 777.6,495.3 777.5,492.9Z" fill="#6b5661"/><path d="M787.4,507.7 C788.4,506.7 794.5,508.6 797.3,510.5 C800.0,512.5 803.9,517.4 803.9,519.5 C803.9,521.5 799.3,523.3 797.3,522.8 C795.2,522.3 793.0,518.9 791.4,516.4 C789.7,513.9 786.4,508.7 787.4,507.7Z" fill="#6b5661"/><path d="M736.6,461.6 C737.9,460.4 743.3,460.4 745.5,460.7 C747.7,461.0 749.3,461.9 749.8,463.5 C750.2,465.1 749.5,468.5 748.4,470.1 C747.3,471.7 744.9,473.2 743.2,472.9 C741.5,472.6 739.1,470.1 738.0,468.2 C736.9,466.3 735.3,462.9 736.6,461.6Z" fill="#6b5661"/><circle cx="710.3" cy="472.9" r="1.9" fill="#e7e2e7"/><circle cx="716.1" cy="478.8" r="1.5" fill="#e7e2e7"/><circle cx="722.0" cy="470.6" r="1.5" fill="#e7e2e7"/><circle cx="706.7" cy="481.1" r="1.3" fill="#e7e2e7"/><circle cx="729.1" cy="475.3" r="1.5" fill="#e7e2e7"/><circle cx="719.7" cy="484.7" r="1.1" fill="#e7e2e7"/><circle cx="735.0" cy="468.2" r="1.1" fill="#e7e2e7"/><rect x="749.9" y="446.90000000000003" width="69.7" height="139.4" fill="#fff" opacity="0.07"/></g><path d="M775.5,473.3 C777.6,473.8 784.5,473.9 788.2,476.2 C792.0,478.5 795.4,483.2 798.0,487.4 C800.6,491.6 802.6,497.0 803.7,501.5 C804.8,506.0 805.0,510.2 804.6,514.2 C804.2,518.2 802.1,523.6 801.6,525.5 L801.6,525.5 C801.5,524.1 801.8,520.3 801.2,517.0 C800.6,513.7 799.7,509.6 798.2,505.8 C796.7,502.1 794.5,497.9 792.2,494.5 C790.0,491.1 786.0,486.8 784.7,485.3 L781.2,490.8 Z" fill="#4a3640"/><path d="M780.6,562.3 C779.0,562.8 774.8,565.0 771.2,565.6 C767.6,566.2 763.1,566.3 758.8,565.6 C754.5,564.9 749.3,563.0 745.5,561.3 C741.7,559.6 738.7,557.5 736.1,555.6 C733.5,553.7 730.8,550.8 729.8,549.8 L731.8,543.8 L710.9,539.5 L712.3,559 L719.0,556.6 C720.6,557.9 724.5,562.0 728.5,564.2 C732.5,566.4 738.0,568.6 742.7,569.8 C747.4,571.0 752.1,571.6 756.9,571.3 C761.6,571.0 767.2,569.5 771.2,568.0 C775.2,566.5 779.0,563.2 780.6,562.3 Z" fill="#4a3640"/><path d="M759.6,495.5 C754.5,486.1 743.9,482.6 743.9,468.7 A14.6,14.6 0 0 1 773.1,468.7 C773.1,482.6 764.7,486.1 759.6,495.5Z" fill="#ea6c2e"/><path d="M759.6,495.5 C754.5,486.1 743.9,482.6 743.9,468.7 A14.6,14.6 0 0 1 758.5,454.1 L758.5,468.7 Z" fill="#f08444"/><circle cx="758.5" cy="468.7" r="6.6" fill="#fff"/><path d="M710.3,536.6 C706.9,529.3 700.6,524.9 700.6,515.7 A9.7,9.7 0 0 1 720.0,515.7 C720.0,524.9 713.7,529.3 710.3,536.6Z" fill="#ea6c2e"/><path d="M710.3,536.6 C706.9,529.3 700.6,524.9 700.6,515.7 A9.7,9.7 0 0 1 710.3,506.0 L710.3,515.7 Z" fill="#f08444"/><circle cx="710.3" cy="515.7" r="4.6" fill="#fff"/><path d="M787.9,559.0 C784.1,550.9 777.8,546.2 777.8,535.9 A10.8,10.8 0 0 1 799.4,535.9 C799.4,546.2 791.7,550.9 787.9,559.0Z" fill="#ea6c2e"/><path d="M787.9,559.0 C784.1,550.9 777.8,546.2 777.8,535.9 A10.8,10.8 0 0 1 788.6,525.1 L788.6,535.9 Z" fill="#f08444"/><circle cx="788.6" cy="535.9" r="5.0" fill="#fff"/>
<path d="M142.1,180.9 C143.5,178.9 147.2,172.7 150.3,168.8 C153.4,164.9 157.1,160.8 160.5,157.6 C163.9,154.4 167.6,151.6 170.7,149.5 C173.8,147.4 176.6,146.0 178.8,144.9 C181.0,143.8 183.1,143.2 183.9,142.8 L182.1,138.8 L201.8,143.6 L187.5,157.6 L184.9,154.1 C183.4,154.5 179.0,155.2 175.8,156.6 C172.6,158.0 169.0,160.5 165.6,162.7 C162.2,164.9 158.5,167.5 155.4,169.9 C152.3,172.3 149.4,175.2 147.2,177.0 C145.0,178.8 142.9,180.2 142.1,180.9Z" fill="#1a3275"/><polygon points="201.8,143.6 190.6,84.7 159.5,90.6 170.7,149.5" fill="url(#ag1)" clip-path="url(#ac1)"/>
<path d="M310.3,90.8 C312.2,89.8 317.6,86.6 321.6,84.7 C325.6,82.8 330.2,80.9 334.5,79.6 C338.8,78.3 343.4,77.6 347.4,77.0 C351.4,76.4 355.8,76.3 358.6,76.1 C361.4,75.9 363.3,75.8 364.2,75.7 L364.2,70.9 L380.2,84.7 L359.5,90.3 L358.6,86.5 C356.7,86.3 351.0,85.6 347.4,85.2 C343.8,84.8 340.3,84.0 337.1,83.9 C333.9,83.8 331.4,84.0 328.4,84.7 C325.4,85.5 322.0,87.4 319.0,88.4 C316.0,89.4 311.8,90.4 310.3,90.8Z" fill="#1a3275"/><polygon points="380.2,84.7 393.9,26.3 361.1,18.6 347.4,77.0" fill="url(#ag2)" clip-path="url(#ac2)"/>
<path d="M492.3,73.0 C494.7,72.3 502.1,69.6 506.6,68.7 C511.1,67.8 515.2,67.7 519.5,67.6 C523.8,67.5 528.7,67.8 532.4,68.1 C536.1,68.3 539.5,68.8 541.9,69.1 C544.3,69.4 545.8,69.8 546.6,70.0 L548.8,65.1 L560.9,81.2 L539.3,81.6 L541.5,78.2 C540.0,77.7 535.6,76.0 532.4,75.2 C529.2,74.4 525.3,73.9 522.1,73.4 C518.9,72.9 516.7,72.6 513.4,72.4 C510.1,72.2 505.7,72.3 502.2,72.4 C498.7,72.5 493.9,72.9 492.3,73.0Z" fill="#1a3275"/><polygon points="560.9,81.2 586.0,26.7 557.5,13.6 532.4,68.1" fill="url(#ag3)" clip-path="url(#ac3)"/>
<path d="M688.2,90.3 C690.2,90.7 696.2,91.5 700.4,92.8 C704.6,94.1 709.4,95.9 713.6,97.9 C717.9,99.9 722.3,102.5 725.9,104.6 C729.5,106.7 732.9,109.3 735.0,110.7 C737.1,112.1 738.0,112.8 738.6,113.2 L741.7,108.1 L745.2,128.5 L725.4,119.3 L728.9,117.3 C727.5,115.8 723.5,111.1 720.8,108.6 C718.1,106.0 715.7,104.1 712.6,102.0 C709.5,99.9 705.5,97.5 702.4,95.9 C699.3,94.3 696.7,93.2 694.3,92.3 C691.9,91.4 689.2,90.6 688.2,90.3Z" fill="#1a3275"/><polygon points="745.2,128.5 791.9,90.8 772.6,66.9 725.9,104.6" fill="url(#ag4)" clip-path="url(#ac4)"/>
<path d="M886.3,210.0 C888.0,211.1 892.9,213.5 896.3,216.3 C899.6,219.1 903.2,223.2 906.4,227.0 C909.5,230.8 912.8,235.3 915.2,238.9 C917.6,242.5 919.4,246.0 920.8,248.3 C922.1,250.6 922.9,252.0 923.3,252.7 L928.7,249.3 L922.7,269.0 L908.6,252.7 L913.3,252.1 C912.8,250.7 911.5,246.9 910.1,243.9 C908.7,240.9 907.0,237.2 905.1,233.9 C903.2,230.6 901.1,227.1 898.8,223.8 C896.5,220.6 893.4,216.7 891.3,214.4 C889.2,212.1 887.1,210.7 886.3,210.0Z" fill="#1a3275"/><polygon points="922.7,269.0 980.9,254.5 973.4,224.4 915.2,238.9" fill="url(#ag5)" clip-path="url(#ac5)"/>
<path d="M698.9,241.0 C696.4,241.4 689.6,241.6 684.0,243.3 C678.4,245.0 671.5,248.0 665.2,251.1 C658.9,254.2 652.4,258.1 646.4,262.1 C640.4,266.2 634.4,271.6 629.2,275.4 C624.0,279.2 617.5,283.2 615.1,284.8 L610.1,277.0 L602.2,319.3 L635.4,298.9 L630.7,292.7 C632.3,290.9 636.4,285.5 640.1,281.7 C643.8,277.9 648.0,274.1 652.7,269.9 C657.4,265.7 663.1,260.5 668.3,256.6 C673.5,252.7 678.9,249.1 684.0,246.5 C689.1,243.9 696.4,241.9 698.9,241.0Z" fill="#1a3275"/><polygon points="602.2,319.3 554.7,282.6 598.9,225.4 646.4,262.1" fill="url(#ag6)" clip-path="url(#ac6)"/>
<path d="M735.3,370.1 C733.3,371.8 727.9,377.2 723.5,380.4 C719.1,383.5 714.0,386.4 708.7,389.0 C703.4,391.6 697.2,394.1 691.5,395.8 C685.8,397.6 679.9,398.4 674.2,399.5 C668.6,400.6 660.4,402.1 657.6,402.6 L656.3,395.2 L622.6,412.4 L663.1,425.4 L660.0,418.0 C662.4,417.4 669.0,415.9 674.2,414.3 C679.5,412.7 685.8,410.8 691.5,408.1 C697.2,405.4 703.4,402.1 708.7,398.2 C714.0,394.3 719.1,389.4 723.5,384.7 C727.9,380.0 733.3,372.5 735.3,370.1Z" fill="#1a3275"/><polygon points="622.6,412.4 626.3,472.3 695.2,468.0 691.5,408.1" fill="url(#ag7)" clip-path="url(#ac7)"/>
<path d="M276.0,312.5 C277.3,314.9 280.4,321.6 283.8,326.9 C287.2,332.2 291.6,339.0 296.3,344.2 C301.0,349.4 306.8,354.4 312.0,358.3 C317.2,362.2 323.6,365.5 327.7,367.7 C331.8,369.9 334.9,371.0 336.3,371.6 L340.2,366.9 L362.5,395.6 L321.1,392.7 L326.1,387.3 C323.8,385.1 316.4,378.5 312.0,373.9 C307.6,369.3 303.4,365.0 299.5,359.8 C295.6,354.6 291.6,348.1 288.5,342.6 C285.4,337.1 282.8,331.9 280.7,326.9 C278.6,321.9 276.8,314.9 276.0,312.5Z" fill="#1a3275"/><polygon points="362.5,395.6 332.9,447.8 269.9,412.0 299.5,359.8" fill="url(#ag8)" clip-path="url(#ac8)"/>
<path d="M114.0,291.2 C116.1,291.9 122.3,294.3 126.5,295.7 C130.8,297.1 135.2,298.5 139.5,299.4 C143.8,300.3 148.6,301.1 152.4,301.3 C156.2,301.6 160.9,301.0 162.6,300.9 L161.2,297.2 L183.0,304.5 L166.4,316.2 L165.3,310.8 C163.9,310.6 160.3,310.3 156.7,309.5 C153.1,308.7 148.1,307.4 143.8,306.0 C139.5,304.6 134.5,302.5 130.9,300.9 C127.3,299.2 125.0,297.7 122.2,296.1 C119.4,294.5 115.4,292.0 114.0,291.2Z" fill="#1a3275"/><polygon points="183.0,304.5 185.3,364.5 146.1,366.0 143.8,306.0" fill="url(#ag9)" clip-path="url(#ac9)"/>
<path d="M391.7,186.8 C390.6,189.0 388.1,195.2 385.4,200.1 C382.6,205.0 379.0,211.9 375.2,216.5 C371.4,221.1 366.9,224.6 362.7,227.5 C358.5,230.4 354.2,232.1 350.2,234.2 C346.2,236.3 340.8,239.0 338.9,240.0 L336.4,235.0 L314.9,260.9 L345.9,262.3 L342.6,255.3 C344.7,254.1 350.8,251.0 354.9,247.9 C359.0,244.8 363.5,241.2 367.4,236.9 C371.3,232.6 375.3,227.3 378.4,222.0 C381.5,216.7 384.0,210.7 386.2,204.8 C388.4,198.9 390.8,189.8 391.7,186.8Z" fill="#1a3275"/><polygon points="314.9,260.9 339.8,315.5 392.3,291.5 367.4,236.9" fill="url(#ag10)" clip-path="url(#ac10)"/>
<path d="M281.3,181.9 C281.4,183.9 281.7,189.7 281.6,193.8 C281.5,197.9 281.3,202.3 280.7,206.3 C280.1,210.3 279.1,213.8 278.2,217.6 C277.2,221.4 275.5,227.0 275.0,228.9 L271.3,227.6 L271.9,248.9 L288.2,237.0 L284.4,233.9 C284.7,232.0 285.9,226.6 286.3,222.6 C286.7,218.6 287.2,214.3 287.0,210.1 C286.8,205.9 285.7,201.1 285.1,197.6 C284.5,194.1 283.8,191.4 283.2,188.8 C282.6,186.2 281.6,183.1 281.3,181.9Z" fill="#1a3275"/><polygon points="271.9,248.9 327.8,270.7 342.9,231.9 287.0,210.1" fill="url(#ag11)" clip-path="url(#ac11)"/>
<g font-family="'Liberation Sans', 'Noto Sans CJK SC', sans-serif">
<text x="25.2" y="327.0" font-size="19.6" fill="#1c1c1c" textLength="78.4">一物一码</text>
<text x="215.0" y="174.4" font-size="20.1" fill="#1c1c1c" textLength="80.4">关联包材</text>
<text x="378.0" y="155.9" font-size="19.76" fill="#1c1c1c" textLength="79.0">关联订单</text>
<text x="561.2" y="135.1" font-size="19.94" fill="#1c1c1c" textLength="119.6">进入分销渠道</text>
<text x="740.2" y="227.8" font-size="20.18" fill="#1c1c1c" textLength="121.1">进入目标市场</text>
<text x="871.7" y="386.4" font-size="20.12" fill="#1c1c1c" textLength="100.6">消费者购买</text>
<text x="379.2" y="320.1" font-size="24.92" fill="#1a2642" textLength="49.8">防伪</text>
<text x="512.9" y="320.2" font-size="24.91" fill="#1a2642" textLength="74.7">防窜货</text>
<text x="215.0" y="598.7" font-size="20.12" fill="#1c1c1c" textLength="161.0">市场监管物资流向</text>
<text x="836.9" y="476" text-anchor="middle" font-size="20.4" fill="#262626">1</text>
<text x="840.6" y="478.0" font-size="19.5" fill="#1c1c1c">、</text>
<text x="859.7" y="477.1" font-size="20.15" fill="#1c1c1c" textLength="120.9">扫码识别真伪</text>
<text x="838.4" y="500.3" text-anchor="middle" font-size="20.4" fill="#262626">2</text>
<text x="842.6" y="502.4" font-size="19.5" fill="#1c1c1c">、</text>
<text x="863.3" y="500.8" font-size="20.26" fill="#1c1c1c" textLength="40.5">积分</text>
<text x="903.7" y="502.4" font-size="19.5" fill="#1c1c1c">、</text>
<text x="921.9" y="501.2" font-size="20.74" fill="#1c1c1c" textLength="41.5">抽奖</text>
<text x="838.4" y="523.9" text-anchor="middle" font-size="20.4" fill="#262626">3</text>
<text x="842.7" y="526.0" font-size="19.5" fill="#1c1c1c">、</text>
<text x="862.3" y="524.5" font-size="20.36" fill="#1c1c1c" textLength="101.8">防窜货追溯</text>
</g>
</svg>
</body></html>
